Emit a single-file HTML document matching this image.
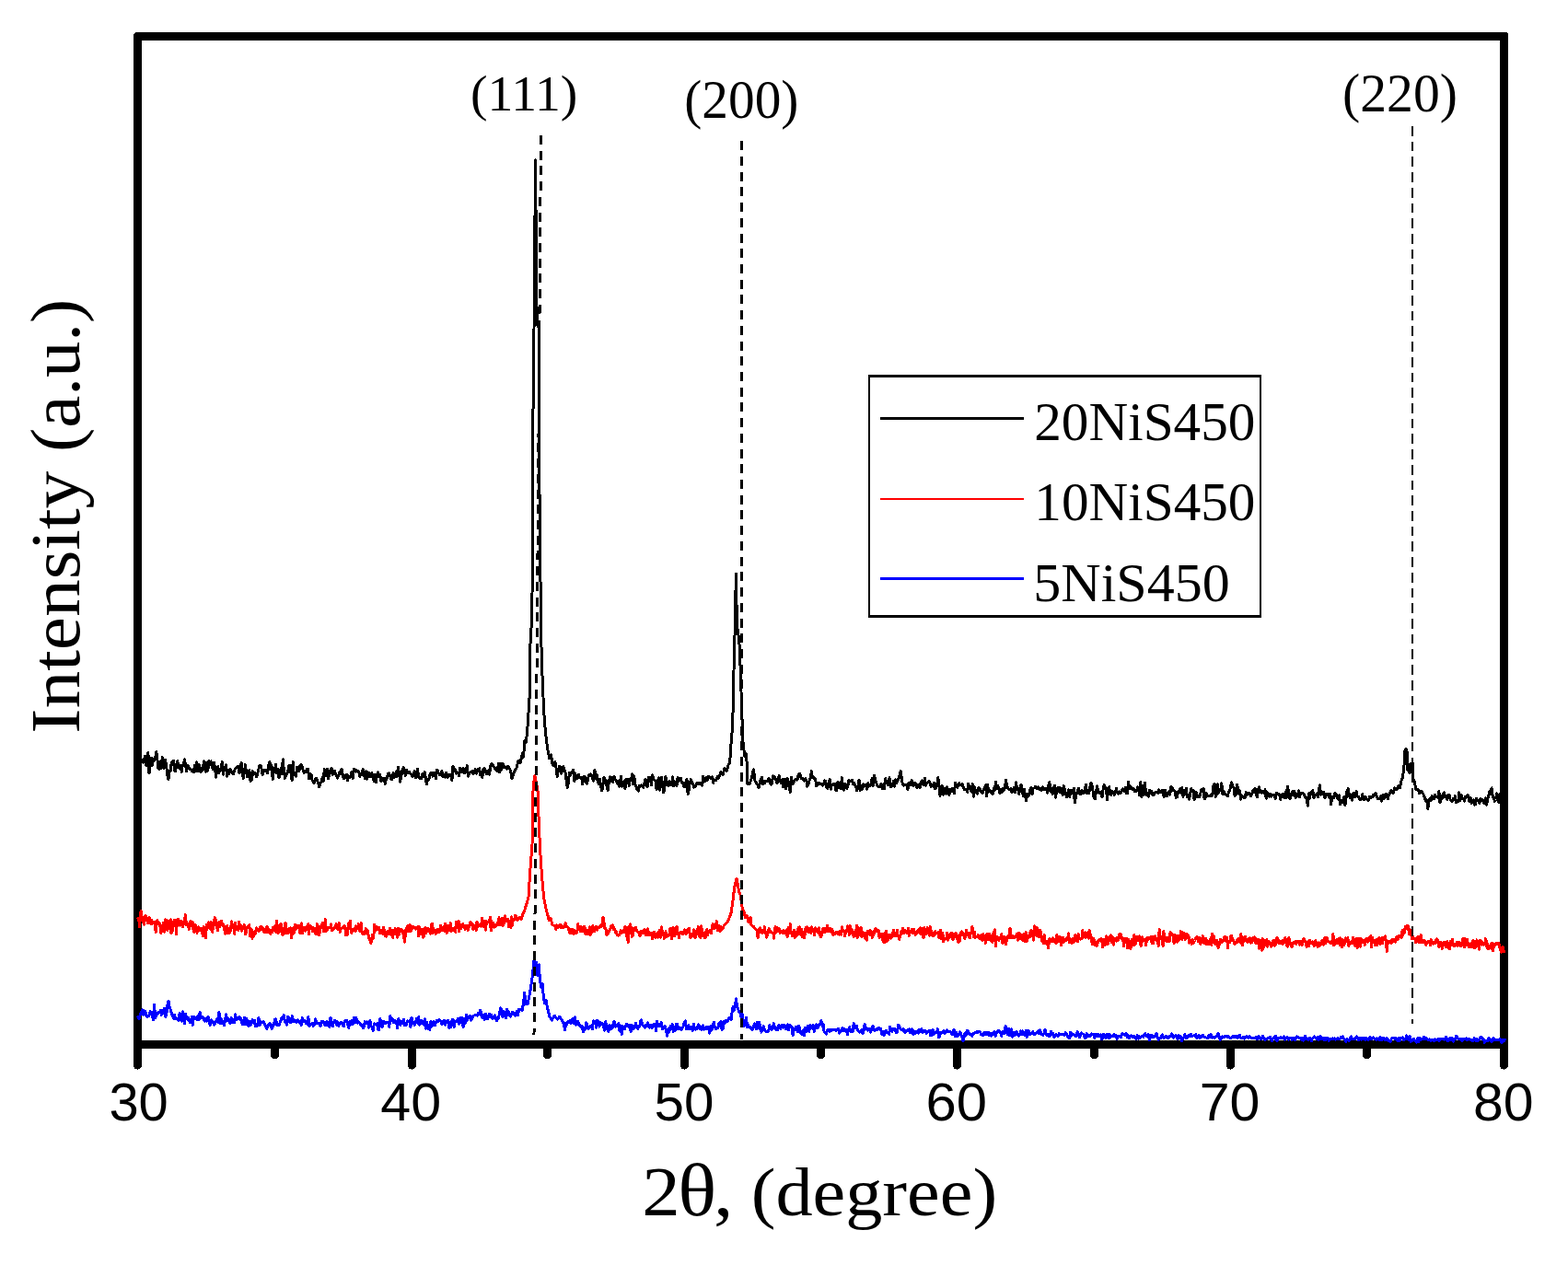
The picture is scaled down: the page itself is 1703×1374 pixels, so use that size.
<!DOCTYPE html>
<html lang="en">
<head>
<meta charset="utf-8">
<title>XRD patterns</title>
<style>
html,body{margin:0;padding:0;background:#fff;}
body{width:1703px;height:1374px;overflow:hidden;}
svg{display:block;}
text{fill:#000;}
</style>
</head>
<body>
<svg width="1703" height="1374" viewBox="0 0 1703 1374">
<rect width="1703" height="1374" fill="#fff"/>
<g shape-rendering="crispEdges" fill="#000">
<polygon points="147,35 1636,35 1638,37 1638,44 145,44 145,37"/>
<rect x="145" y="1130" width="1493" height="9"/>
<rect x="145" y="37" width="9" height="1102"/>
<rect x="1629" y="37" width="9" height="1102"/>
</g>
<g shape-rendering="crispEdges" stroke="#000" stroke-width="9" stroke-linecap="round" fill="none">
<line x1="149.5" y1="1134.5" x2="149.5" y2="1157.2"/>
<line x1="447.5" y1="1134.5" x2="447.5" y2="1157.2"/>
<line x1="743.5" y1="1134.5" x2="743.5" y2="1157.2"/>
<line x1="1039.5" y1="1134.5" x2="1039.5" y2="1157.2"/>
<line x1="1336.5" y1="1134.5" x2="1336.5" y2="1157.2"/>
<line x1="1633.5" y1="1134.5" x2="1633.5" y2="1157.2"/>
<line x1="298.5" y1="1134.5" x2="298.5" y2="1145.6"/>
<line x1="594.5" y1="1134.5" x2="594.5" y2="1145.6"/>
<line x1="891.5" y1="1134.5" x2="891.5" y2="1145.6"/>
<line x1="1188.5" y1="1134.5" x2="1188.5" y2="1145.6"/>
<line x1="1484.5" y1="1134.5" x2="1484.5" y2="1145.6"/>
</g>
<g shape-rendering="crispEdges" fill="none" stroke-width="3" stroke-linejoin="round" stroke-linecap="round">
<path stroke="#000" d="M151.0,821.6 L152.1,835.5 L153.2,824.3 L154.3,827.4 L155.4,828.2 L156.5,824.5 L157.6,821.1 L158.7,831.4 L159.8,829.7 L160.9,817.4 L162.0,839.6 L163.1,832.2 L164.2,823.0 L165.3,831.5 L166.4,824.2 L167.5,826.1 L168.6,824.2 L169.7,816.5 L170.8,823.9 L171.9,834.9 L173.0,835.3 L174.1,827.6 L175.2,834.7 L176.3,822.4 L177.4,830.7 L178.5,834.4 L179.6,825.5 L180.7,832.4 L181.8,841.9 L182.9,846.7 L184.0,837.2 L185.1,837.6 L186.2,828.4 L187.3,827.3 L188.4,826.3 L189.5,836.5 L190.6,837.5 L191.7,830.0 L192.8,826.7 L193.9,834.1 L195.0,834.0 L196.1,831.3 L197.2,838.2 L198.3,830.8 L199.4,830.5 L200.5,824.9 L201.6,831.4 L202.7,838.0 L203.8,831.8 L204.9,832.6 L206.0,835.3 L207.1,835.3 L208.2,837.2 L209.3,837.8 L210.4,838.6 L211.5,831.5 L212.6,837.5 L213.7,827.8 L214.8,837.8 L215.9,830.0 L217.0,836.2 L218.1,839.0 L219.2,834.1 L220.3,836.4 L221.4,827.0 L222.5,830.6 L223.6,838.2 L224.7,828.2 L225.8,837.2 L226.9,826.1 L228.0,828.2 L229.1,827.0 L230.2,832.9 L231.3,836.0 L232.4,828.3 L233.5,833.8 L234.6,844.2 L235.7,834.9 L236.8,832.8 L237.9,839.4 L239.0,836.3 L240.1,833.7 L241.2,827.8 L242.3,841.2 L243.4,833.8 L244.5,836.6 L245.6,830.9 L246.7,843.1 L247.8,840.0 L248.9,841.0 L250.0,835.2 L251.1,838.0 L252.2,840.1 L253.3,840.7 L254.4,837.0 L255.5,835.3 L256.6,834.2 L257.7,832.7 L258.8,832.2 L259.9,839.7 L261.0,837.2 L262.1,828.8 L263.2,839.0 L264.3,845.7 L265.4,838.9 L266.5,830.7 L267.6,839.5 L268.7,843.9 L269.8,840.4 L270.9,836.8 L272.0,848.2 L273.1,848.1 L274.2,837.3 L275.3,841.6 L276.4,839.1 L277.5,840.7 L278.6,843.8 L279.7,840.1 L280.8,836.0 L281.9,832.0 L283.0,831.1 L284.1,835.3 L285.2,841.7 L286.3,837.5 L287.4,836.5 L288.5,837.8 L289.6,836.8 L290.7,839.7 L291.8,831.3 L292.9,827.1 L294.0,835.4 L295.1,831.9 L296.2,846.5 L297.3,837.4 L298.4,837.1 L299.5,830.5 L300.6,840.0 L301.7,835.4 L302.8,844.5 L303.9,843.1 L305.0,834.8 L306.1,841.0 L307.2,824.8 L308.3,835.4 L309.4,845.4 L310.5,843.0 L311.6,839.7 L312.7,838.6 L313.8,831.3 L314.9,831.6 L316.0,839.8 L317.1,847.7 L318.2,827.2 L319.3,841.7 L320.4,841.5 L321.5,843.1 L322.6,833.5 L323.7,835.0 L324.8,837.8 L325.9,831.9 L327.0,830.6 L328.1,832.3 L329.2,836.6 L330.3,839.2 L331.4,837.5 L332.5,838.6 L333.6,835.3 L334.7,835.7 L335.8,845.9 L336.9,840.4 L338.0,841.0 L339.1,847.1 L340.2,849.4 L341.3,850.5 L342.4,846.8 L343.5,845.3 L344.6,847.9 L345.7,851.0 L346.8,855.0 L347.9,851.1 L349.0,849.0 L350.1,844.5 L351.2,848.2 L352.3,835.5 L353.4,842.7 L354.5,842.8 L355.6,835.4 L356.7,845.9 L357.8,837.6 L358.9,837.4 L360.0,834.4 L361.1,841.3 L362.2,839.5 L363.3,837.3 L364.4,840.6 L365.5,842.7 L366.6,845.0 L367.7,842.1 L368.8,838.7 L369.9,840.6 L371.0,835.2 L372.1,840.8 L373.2,845.9 L374.3,844.9 L375.4,842.7 L376.5,841.5 L377.6,847.6 L378.7,842.8 L379.8,844.5 L380.9,842.3 L382.0,838.3 L383.1,845.4 L384.2,835.5 L385.3,835.4 L386.4,838.0 L387.5,837.0 L388.6,837.8 L389.7,837.9 L390.8,843.6 L391.9,840.7 L393.0,842.0 L394.1,835.7 L395.2,838.5 L396.3,845.3 L397.4,837.8 L398.5,846.2 L399.6,839.0 L400.7,843.7 L401.8,840.0 L402.9,843.6 L404.0,839.9 L405.1,842.1 L406.2,848.7 L407.3,841.7 L408.4,849.9 L409.5,841.4 L410.6,839.0 L411.7,843.3 L412.8,841.6 L413.9,849.0 L415.0,845.9 L416.1,847.0 L417.2,845.1 L418.3,851.4 L419.4,845.7 L420.5,844.8 L421.6,840.2 L422.7,839.9 L423.8,843.6 L424.9,846.3 L426.0,846.5 L427.1,839.3 L428.2,844.1 L429.3,842.7 L430.4,838.0 L431.5,843.3 L432.6,833.6 L433.7,842.0 L434.8,849.2 L435.9,837.1 L437.0,840.4 L438.1,833.7 L439.2,837.4 L440.3,842.4 L441.4,836.2 L442.5,839.6 L443.6,838.5 L444.7,838.4 L445.8,840.3 L446.9,841.3 L448.0,843.9 L449.1,842.5 L450.2,837.8 L451.3,844.6 L452.4,844.3 L453.5,835.2 L454.6,843.3 L455.7,844.6 L456.8,846.0 L457.9,845.4 L459.0,840.0 L460.1,844.0 L461.2,838.2 L462.3,844.8 L463.4,852.0 L464.5,847.0 L465.6,847.2 L466.7,842.2 L467.8,840.0 L468.9,839.5 L470.0,843.1 L471.1,839.6 L472.2,839.9 L473.3,845.9 L474.4,836.4 L475.5,837.5 L476.6,840.4 L477.7,841.9 L478.8,841.9 L479.9,837.8 L481.0,843.3 L482.1,842.3 L483.2,844.1 L484.3,839.3 L485.4,844.0 L486.5,844.0 L487.6,841.1 L488.7,842.6 L489.8,841.3 L490.9,847.6 L492.0,832.1 L493.1,837.3 L494.2,836.0 L495.3,840.1 L496.4,838.7 L497.5,839.2 L498.6,842.6 L499.7,834.2 L500.8,836.5 L501.9,838.2 L503.0,834.5 L504.1,839.5 L505.2,839.1 L506.3,835.5 L507.4,831.8 L508.5,843.2 L509.6,839.4 L510.7,839.2 L511.8,838.0 L512.9,837.8 L514.0,840.6 L515.1,837.7 L516.2,835.7 L517.3,840.2 L518.4,838.0 L519.5,835.2 L520.6,834.7 L521.7,841.8 L522.8,839.9 L523.9,844.3 L525.0,835.5 L526.1,834.4 L527.2,837.9 L528.3,840.8 L529.4,837.7 L530.5,836.7 L531.6,841.2 L532.7,831.8 L533.8,829.6 L534.9,830.9 L536.0,832.0 L537.1,834.1 L538.2,836.1 L539.3,833.9 L540.4,837.6 L541.5,829.6 L542.6,838.8 L543.7,829.5 L544.8,836.2 L545.9,829.0 L547.0,833.3 L548.1,832.3 L549.2,834.0 L550.3,835.1 L551.4,832.3 L552.5,833.4 L553.6,835.2 L554.7,837.5 L556.0,846.0 L559.0,837.2 L561.0,834.0 L563.0,826.0 L565.0,829.0 L567.4,818.0 L568.5,822.0 L570.0,804.0 L571.5,806.0 L573.0,789.0 L574.2,771.0 L575.3,754.0 L575.5,705.0 L576.8,690.0 L577.3,670.0 L578.0,645.0 L578.6,605.0 L578.4,500.0 L578.9,455.0 L579.4,410.0 L580.0,358.0 L581.5,174.0 L583.2,352.0 L585.3,356.0 L585.2,400.0 L585.5,450.0 L585.6,520.0 L586.6,560.0 L586.8,620.0 L587.5,660.0 L587.6,690.0 L588.9,731.0 L590.6,771.5 L592.4,795.0 L594.5,812.0 L596.8,824.0 L598.5,820.0 L600.0,830.0 L602.0,832.0 L603.0,827.6 L604.1,834.2 L605.2,843.2 L606.3,837.9 L607.4,832.1 L608.5,833.2 L609.6,840.3 L610.7,835.5 L611.8,832.5 L612.9,836.6 L614.0,838.6 L615.1,847.3 L616.2,855.5 L617.3,850.3 L618.4,839.4 L619.5,842.0 L620.6,838.7 L621.7,837.7 L622.8,836.1 L623.9,848.6 L625.0,840.7 L626.1,844.3 L627.2,845.7 L628.3,841.1 L629.4,844.9 L630.5,845.1 L631.6,844.1 L632.7,851.9 L633.8,844.8 L634.9,843.0 L636.0,846.5 L637.1,851.1 L638.2,848.1 L639.3,842.5 L640.4,841.1 L641.5,840.9 L642.6,842.0 L643.7,846.2 L644.8,848.0 L645.9,836.0 L647.0,845.2 L648.1,841.6 L649.2,849.4 L650.3,851.5 L651.4,846.2 L652.5,853.1 L653.6,858.8 L654.7,855.3 L655.8,844.6 L656.9,846.1 L658.0,847.5 L659.1,854.6 L660.2,858.8 L661.3,849.1 L662.4,843.9 L663.5,848.6 L664.6,844.6 L665.7,849.5 L666.8,843.2 L667.9,846.1 L669.0,847.7 L670.1,850.2 L671.2,848.4 L672.3,854.1 L673.4,850.2 L674.5,843.1 L675.6,854.3 L676.7,849.8 L677.8,848.4 L678.9,856.6 L680.0,846.4 L681.1,849.9 L682.2,846.1 L683.3,853.4 L684.4,846.0 L685.5,847.7 L686.6,840.9 L687.7,852.0 L688.8,842.9 L689.9,851.8 L691.0,854.3 L692.1,857.5 L693.2,859.0 L694.3,853.1 L695.4,854.4 L696.5,852.8 L697.6,853.3 L698.7,855.4 L699.8,850.9 L700.9,846.7 L702.0,849.0 L703.1,854.9 L704.2,844.0 L705.3,848.7 L706.4,844.4 L707.5,852.5 L708.6,841.7 L709.7,846.7 L710.8,847.5 L711.9,848.4 L713.0,857.3 L714.1,854.5 L715.2,844.9 L716.3,858.1 L717.4,845.9 L718.5,844.1 L719.6,852.6 L720.7,860.7 L721.8,857.2 L722.9,843.3 L724.0,853.1 L725.1,849.9 L726.2,853.2 L727.3,848.4 L728.4,852.9 L729.5,851.1 L730.6,844.0 L731.7,853.9 L732.8,848.9 L733.9,851.0 L735.0,853.2 L736.1,844.6 L737.2,848.2 L738.3,845.5 L739.4,845.2 L740.5,850.1 L741.6,850.5 L742.7,854.6 L743.8,854.9 L744.9,849.6 L746.0,846.5 L747.1,862.4 L748.2,858.4 L749.3,849.8 L750.4,846.7 L751.5,848.8 L752.6,851.6 L753.7,855.1 L754.8,854.6 L755.9,852.6 L757.0,850.1 L758.1,851.8 L759.2,850.1 L760.3,851.7 L761.4,851.0 L762.5,853.3 L763.6,843.6 L764.7,849.0 L765.8,848.5 L766.9,844.4 L768.0,847.4 L769.1,843.2 L770.2,844.1 L771.3,845.2 L772.4,845.1 L773.5,843.8 L774.6,850.4 L775.7,847.0 L776.8,847.5 L777.9,847.3 L779.0,843.8 L780.7,845.0 L783.0,838.0 L785.0,842.0 L787.0,834.0 L789.0,838.0 L791.0,831.0 L792.7,828.6 L793.7,811.0 L795.5,791.0 L796.5,757.0 L797.5,700.0 L798.3,685.0 L799.3,623.0 L800.5,680.0 L802.0,690.0 L803.5,705.0 L804.5,740.0 L805.4,760.0 L806.0,780.7 L807.0,806.0 L808.8,821.5 L810.0,818.0 L811.0,826.6 L812.0,852.0 L814.0,851.7 L816.0,846.0 L818.4,836.0 L820.0,848.0 L823.0,853.0 L824.1,855.4 L825.2,851.1 L826.3,846.1 L827.4,844.4 L828.5,852.0 L829.6,848.5 L830.7,850.4 L831.8,848.4 L832.9,848.6 L834.0,849.0 L835.1,845.2 L836.2,849.0 L837.3,852.1 L838.4,851.0 L839.5,842.8 L840.6,844.0 L841.7,843.9 L842.8,847.4 L843.9,850.9 L845.0,849.1 L846.1,842.2 L847.2,848.2 L848.3,850.8 L849.4,846.9 L850.5,854.8 L851.6,846.6 L852.7,852.8 L853.8,856.9 L854.9,845.1 L856.0,848.4 L857.1,851.5 L858.2,860.4 L859.3,844.1 L860.4,851.9 L861.5,850.9 L862.6,848.3 L863.7,846.5 L864.8,847.0 L865.9,847.1 L867.0,841.9 L868.1,840.0 L869.2,842.0 L870.3,845.9 L871.4,845.3 L872.5,846.3 L873.6,848.2 L874.7,845.5 L875.8,847.4 L876.9,854.1 L878.0,852.0 L879.1,847.8 L880.2,845.4 L881.3,837.5 L882.4,844.3 L883.5,844.6 L884.6,845.7 L885.7,846.8 L886.8,853.9 L887.9,850.7 L889.0,851.9 L890.1,850.8 L891.2,851.6 L892.3,852.0 L893.4,853.3 L894.5,851.4 L895.6,848.0 L896.7,848.6 L897.8,855.3 L898.9,856.1 L900.0,853.5 L901.1,846.4 L902.2,857.1 L903.3,853.1 L904.4,852.0 L905.5,852.4 L906.6,851.2 L907.7,858.4 L908.8,858.3 L909.9,849.3 L911.0,852.2 L912.1,853.9 L913.2,857.0 L914.3,844.7 L915.4,855.7 L916.5,858.0 L917.6,851.3 L918.7,852.2 L919.8,856.3 L920.9,853.3 L922.0,847.6 L923.1,848.0 L924.2,848.4 L925.3,847.2 L926.4,851.9 L927.5,850.4 L928.6,852.5 L929.7,855.0 L930.8,858.9 L931.9,854.1 L933.0,847.4 L934.1,858.3 L935.2,853.3 L936.3,857.5 L937.4,852.0 L938.5,854.4 L939.6,852.8 L940.7,853.0 L941.8,857.2 L942.9,850.6 L944.0,853.2 L945.1,853.3 L946.2,851.1 L947.3,845.0 L948.4,853.3 L949.5,842.6 L950.6,846.9 L951.7,850.3 L952.8,853.3 L953.9,854.8 L955.0,854.8 L956.1,854.2 L957.2,851.2 L958.3,856.6 L959.4,851.8 L960.5,856.6 L961.6,845.7 L962.7,850.1 L963.8,851.3 L964.9,853.0 L966.0,844.8 L967.1,854.8 L968.2,854.7 L969.3,853.3 L970.4,848.3 L971.5,854.1 L972.6,846.7 L973.7,850.8 L974.8,846.9 L975.9,846.3 L977.0,841.9 L978.1,837.5 L979.2,844.5 L980.3,852.1 L981.4,853.2 L982.5,852.6 L983.6,852.8 L984.7,852.8 L985.8,857.7 L986.9,850.8 L988.0,850.5 L989.1,853.0 L990.2,847.6 L991.3,852.6 L992.4,853.4 L993.5,850.2 L994.6,851.6 L995.7,855.6 L996.8,852.2 L997.9,852.9 L999.0,855.7 L1000.1,850.0 L1001.2,847.9 L1002.3,851.3 L1003.4,852.6 L1004.5,845.1 L1005.6,853.2 L1006.7,850.1 L1007.8,849.8 L1008.9,848.4 L1010.0,850.7 L1011.1,854.5 L1012.2,853.2 L1013.3,854.1 L1014.4,850.3 L1015.5,857.0 L1016.6,856.3 L1017.7,852.6 L1018.8,844.7 L1019.9,854.5 L1021.0,864.2 L1022.1,855.8 L1023.2,853.4 L1024.3,863.1 L1025.4,856.2 L1026.5,860.5 L1027.6,862.0 L1028.7,854.8 L1029.8,860.0 L1030.9,863.7 L1032.0,857.1 L1033.1,859.8 L1034.2,856.1 L1035.3,859.3 L1036.4,861.7 L1037.5,850.1 L1038.6,852.9 L1039.7,855.5 L1040.8,851.6 L1041.9,850.8 L1043.0,852.7 L1044.1,853.0 L1045.2,851.6 L1046.3,855.4 L1047.4,857.5 L1048.5,857.6 L1049.6,857.8 L1050.7,860.3 L1051.8,851.0 L1052.9,856.3 L1054.0,857.9 L1055.1,859.5 L1056.2,851.6 L1057.3,865.1 L1058.4,854.6 L1059.5,859.0 L1060.6,860.8 L1061.7,862.1 L1062.8,855.4 L1063.9,855.9 L1065.0,859.4 L1066.1,860.2 L1067.2,861.5 L1068.3,857.7 L1069.4,855.3 L1070.5,852.8 L1071.6,864.4 L1072.7,852.4 L1073.8,860.2 L1074.9,858.5 L1076.0,860.2 L1077.1,860.9 L1078.2,862.3 L1079.3,856.8 L1080.4,858.5 L1081.5,849.5 L1082.6,857.0 L1083.7,853.4 L1084.8,856.2 L1085.9,861.5 L1087.0,857.2 L1088.1,861.0 L1089.2,856.1 L1090.3,858.3 L1091.4,855.2 L1092.5,847.1 L1093.6,854.1 L1094.7,855.8 L1095.8,857.5 L1096.9,857.0 L1098.0,856.5 L1099.1,860.7 L1100.2,859.5 L1101.3,855.7 L1102.4,860.6 L1103.5,849.8 L1104.6,856.3 L1105.7,856.9 L1106.8,862.5 L1107.9,855.6 L1109.0,852.1 L1110.1,858.4 L1111.2,864.2 L1112.3,857.1 L1113.4,863.0 L1114.5,869.8 L1115.6,863.1 L1116.7,862.1 L1117.8,864.1 L1118.9,858.0 L1120.0,855.5 L1121.1,862.8 L1122.2,856.1 L1123.3,856.0 L1124.4,854.5 L1125.5,854.7 L1126.6,856.9 L1127.7,855.0 L1128.8,857.7 L1129.9,856.6 L1131.0,858.4 L1132.1,854.9 L1133.2,855.7 L1134.3,857.4 L1135.4,856.8 L1136.5,857.0 L1137.6,861.2 L1138.7,852.7 L1139.8,849.5 L1140.9,859.8 L1142.0,856.2 L1143.1,862.4 L1144.2,857.1 L1145.3,853.1 L1146.4,866.1 L1147.5,859.4 L1148.6,856.3 L1149.7,855.3 L1150.8,860.5 L1151.9,855.9 L1153.0,860.1 L1154.1,863.2 L1155.2,853.7 L1156.3,857.7 L1157.4,861.1 L1158.5,865.7 L1159.6,863.0 L1160.7,857.9 L1161.8,865.3 L1162.9,858.5 L1164.0,859.3 L1165.1,861.5 L1166.2,856.0 L1167.3,872.0 L1168.4,864.9 L1169.5,861.3 L1170.6,858.4 L1171.7,856.1 L1172.8,861.9 L1173.9,863.0 L1175.0,858.6 L1176.1,859.1 L1177.2,861.8 L1178.3,859.2 L1179.4,852.1 L1180.5,861.5 L1181.6,859.7 L1182.7,861.3 L1183.8,855.5 L1184.9,850.2 L1186.0,853.6 L1187.1,859.6 L1188.2,866.6 L1189.3,867.9 L1190.4,860.3 L1191.5,853.8 L1192.6,858.3 L1193.7,861.5 L1194.8,861.7 L1195.9,860.6 L1197.0,865.5 L1198.1,857.1 L1199.2,852.3 L1200.3,857.2 L1201.4,856.0 L1202.5,868.8 L1203.6,859.5 L1204.7,854.6 L1205.8,862.3 L1206.9,863.7 L1208.0,859.9 L1209.1,860.3 L1210.2,863.4 L1211.3,861.3 L1212.4,856.5 L1213.5,861.1 L1214.6,862.2 L1215.7,859.8 L1216.8,861.6 L1217.9,860.2 L1219.0,856.9 L1220.1,857.0 L1221.2,859.7 L1222.3,855.1 L1223.4,861.4 L1224.5,861.6 L1225.6,849.3 L1226.7,856.8 L1227.8,854.3 L1228.9,854.9 L1230.0,857.9 L1231.1,856.8 L1232.2,859.7 L1233.3,858.9 L1234.4,859.2 L1235.5,855.0 L1236.6,856.8 L1237.7,863.9 L1238.8,849.2 L1239.9,865.5 L1241.0,857.2 L1242.1,864.1 L1243.2,850.1 L1244.3,858.7 L1245.4,863.8 L1246.5,861.5 L1247.6,865.1 L1248.7,858.2 L1249.8,859.6 L1250.9,859.5 L1252.0,863.5 L1253.1,863.3 L1254.2,861.1 L1255.3,860.5 L1256.4,860.2 L1257.5,861.4 L1258.6,857.7 L1259.7,860.7 L1260.8,860.2 L1261.9,858.7 L1263.0,858.5 L1264.1,865.5 L1265.2,858.1 L1266.3,861.5 L1267.4,864.7 L1268.5,862.4 L1269.6,859.8 L1270.7,863.1 L1271.8,854.6 L1272.9,855.2 L1274.0,858.2 L1275.1,858.9 L1276.2,859.4 L1277.3,866.4 L1278.4,865.8 L1279.5,859.9 L1280.6,861.0 L1281.7,857.0 L1282.8,861.4 L1283.9,855.6 L1285.0,865.3 L1286.1,858.7 L1287.2,862.6 L1288.3,856.2 L1289.4,865.8 L1290.5,863.3 L1291.6,868.3 L1292.7,861.9 L1293.8,856.3 L1294.9,859.5 L1296.0,858.2 L1297.1,868.4 L1298.2,860.9 L1299.3,860.8 L1300.4,865.8 L1301.5,864.9 L1302.6,865.9 L1303.7,862.5 L1304.8,857.2 L1305.9,859.3 L1307.0,856.2 L1308.1,868.1 L1309.2,866.5 L1310.3,861.7 L1311.4,865.0 L1312.5,864.9 L1313.6,864.5 L1314.7,863.9 L1315.8,864.9 L1316.9,861.9 L1318.0,853.6 L1319.1,851.5 L1320.2,865.5 L1321.3,862.9 L1322.4,851.9 L1323.5,861.1 L1324.6,857.2 L1325.7,858.2 L1326.8,850.8 L1327.9,862.4 L1329.0,859.2 L1330.1,862.2 L1331.2,863.0 L1332.3,863.5 L1333.4,864.5 L1334.5,859.6 L1335.6,859.1 L1336.7,853.4 L1337.8,850.0 L1338.9,854.4 L1340.0,855.3 L1341.1,864.4 L1342.2,863.4 L1343.3,852.2 L1344.4,855.7 L1345.5,862.2 L1346.6,858.8 L1347.7,868.1 L1348.8,864.4 L1349.9,865.5 L1351.0,866.2 L1352.1,867.0 L1353.2,860.7 L1354.3,863.2 L1355.4,861.3 L1356.5,862.9 L1357.6,861.8 L1358.7,864.7 L1359.8,861.7 L1360.9,858.2 L1362.0,860.5 L1363.1,856.2 L1364.2,861.4 L1365.3,865.8 L1366.4,858.4 L1367.5,854.9 L1368.6,860.6 L1369.7,859.2 L1370.8,861.1 L1371.9,859.1 L1373.0,861.6 L1374.1,857.9 L1375.2,867.1 L1376.3,860.9 L1377.4,863.8 L1378.5,865.0 L1379.6,862.3 L1380.7,865.1 L1381.8,863.4 L1382.9,863.3 L1384.0,864.5 L1385.1,867.2 L1386.2,861.0 L1387.3,862.0 L1388.4,862.0 L1389.5,862.6 L1390.6,868.4 L1391.7,864.0 L1392.8,862.7 L1393.9,864.0 L1395.0,867.0 L1396.1,860.3 L1397.2,866.3 L1398.3,854.2 L1399.4,859.0 L1400.5,867.1 L1401.6,867.1 L1402.7,862.0 L1403.8,859.7 L1404.9,864.0 L1406.0,859.7 L1407.1,866.7 L1408.2,865.6 L1409.3,864.4 L1410.4,858.9 L1411.5,865.6 L1412.6,861.5 L1413.7,861.8 L1414.8,861.3 L1415.9,862.6 L1417.0,864.9 L1418.1,866.3 L1419.2,866.3 L1420.3,875.2 L1421.4,862.0 L1422.5,867.2 L1423.6,860.7 L1424.7,862.2 L1425.8,858.7 L1426.9,867.0 L1428.0,863.6 L1429.1,863.0 L1430.2,862.1 L1431.3,865.7 L1432.4,857.2 L1433.5,853.0 L1434.6,863.3 L1435.7,862.6 L1436.8,861.2 L1437.9,860.2 L1439.0,867.0 L1440.1,864.7 L1441.2,862.2 L1442.3,862.2 L1443.4,865.6 L1444.5,862.3 L1445.6,873.6 L1446.7,865.8 L1447.8,866.2 L1448.9,866.9 L1450.0,861.2 L1451.1,862.8 L1452.2,866.9 L1453.3,868.2 L1454.4,863.9 L1455.5,874.0 L1456.6,869.3 L1457.7,871.8 L1458.8,871.0 L1459.9,865.6 L1461.0,874.5 L1462.1,865.9 L1463.2,858.4 L1464.3,856.4 L1465.4,864.2 L1466.5,866.8 L1467.6,863.5 L1468.7,869.0 L1469.8,861.7 L1470.9,864.8 L1472.0,865.5 L1473.1,859.6 L1474.2,864.6 L1475.3,865.2 L1476.4,868.1 L1477.5,868.8 L1478.6,868.3 L1479.7,862.4 L1480.8,867.8 L1481.9,869.0 L1483.0,865.4 L1484.1,867.9 L1485.2,868.0 L1486.3,869.4 L1487.4,865.5 L1488.5,866.9 L1489.6,866.0 L1490.7,865.5 L1491.8,863.1 L1492.9,864.1 L1494.0,861.3 L1495.1,864.6 L1496.2,867.7 L1497.3,867.4 L1498.4,867.9 L1499.5,864.9 L1500.6,870.1 L1501.7,863.6 L1502.8,867.9 L1503.9,866.7 L1505.0,862.6 L1506.1,862.8 L1507.2,867.9 L1508.0,865.0 L1511.0,858.0 L1513.0,862.0 L1514.6,856.0 L1517.0,858.0 L1519.0,853.0 L1520.5,855.8 L1522.0,848.0 L1523.4,845.0 L1525.0,831.0 L1526.0,815.0 L1527.0,813.5 L1528.0,816.0 L1528.7,835.8 L1530.0,838.0 L1531.0,840.0 L1532.0,829.0 L1533.4,838.0 L1534.0,828.0 L1535.0,846.0 L1536.5,850.0 L1538.0,858.0 L1540.0,857.0 L1541.6,861.6 L1544.0,859.0 L1546.0,862.8 L1548.6,869.9 L1549.7,868.8 L1550.8,878.4 L1551.9,869.3 L1553.0,867.4 L1554.1,869.3 L1555.2,864.4 L1556.3,865.7 L1557.4,867.7 L1558.5,863.2 L1559.6,865.8 L1560.7,865.2 L1561.8,866.1 L1562.9,859.5 L1564.0,871.8 L1565.1,865.2 L1566.2,867.4 L1567.3,861.8 L1568.4,861.0 L1569.5,865.8 L1570.6,864.8 L1571.7,868.5 L1572.8,863.2 L1573.9,863.2 L1575.0,868.1 L1576.1,869.6 L1577.2,870.6 L1578.3,867.4 L1579.4,868.4 L1580.5,864.6 L1581.6,871.8 L1582.7,871.0 L1583.8,870.6 L1584.9,860.9 L1586.0,869.4 L1587.1,863.5 L1588.2,867.6 L1589.3,867.2 L1590.4,870.1 L1591.5,865.4 L1592.6,865.4 L1593.7,863.8 L1594.8,864.0 L1595.9,870.9 L1597.0,866.5 L1598.1,872.6 L1599.2,869.4 L1600.3,868.9 L1601.4,874.2 L1602.5,873.7 L1603.6,867.1 L1604.7,869.8 L1605.8,870.2 L1606.9,872.4 L1608.0,867.3 L1609.1,868.2 L1610.2,869.1 L1611.3,871.8 L1612.4,872.3 L1613.5,866.9 L1614.6,874.3 L1615.7,868.8 L1616.8,863.6 L1617.9,859.8 L1619.0,862.8 L1620.1,855.9 L1621.2,865.0 L1622.3,866.9 L1623.4,870.3 L1624.5,868.5 L1625.6,861.8 L1626.7,867.6 L1627.8,871.7 L1628.9,862.2 L1630.0,867.2 L1631.1,872.4 L1632.2,870.4 L1633.3,863.2"/>
<path stroke="#f00" d="M150.0,997.3 L150.8,999.2 L151.6,1006.5 L152.4,993.9 L153.2,989.7 L154.0,995.3 L154.8,1000.2 L155.6,1001.0 L156.4,1004.2 L157.2,998.7 L158.0,994.1 L158.8,999.1 L159.6,999.0 L160.4,1002.5 L161.2,1002.0 L162.0,996.4 L162.8,1002.0 L163.6,1003.1 L164.4,999.2 L165.2,1003.7 L166.0,1001.3 L166.8,1001.8 L167.6,1001.1 L168.4,1005.0 L169.2,1012.9 L170.0,1003.9 L170.8,999.3 L171.6,1003.0 L172.4,1002.0 L173.2,1005.4 L174.0,1003.9 L174.8,1013.6 L175.6,1007.2 L176.4,1011.3 L177.2,1002.1 L178.0,1003.9 L178.8,1012.2 L179.6,998.8 L180.4,1005.4 L181.2,999.4 L182.0,1010.6 L182.8,1000.0 L183.6,1004.0 L184.4,1004.4 L185.2,998.9 L186.0,1013.7 L186.8,1004.1 L187.6,1010.5 L188.4,1001.9 L189.2,999.0 L190.0,1004.9 L190.8,1004.7 L191.6,1014.4 L192.4,999.9 L193.2,998.0 L194.0,1000.9 L194.8,1004.4 L195.6,1005.2 L196.4,1000.4 L197.2,1001.7 L198.0,1004.9 L198.8,1006.9 L199.6,1000.9 L200.4,1003.6 L201.2,993.3 L202.0,999.9 L202.8,1005.0 L203.6,1003.6 L204.4,1003.1 L205.2,1009.7 L206.0,1003.0 L206.8,1000.4 L207.6,1005.4 L208.4,1005.8 L209.2,1001.5 L210.0,1009.7 L210.8,1012.8 L211.6,1005.1 L212.4,1004.6 L213.2,1008.0 L214.0,1013.3 L214.8,1007.2 L215.6,1006.9 L216.4,1007.6 L217.2,1010.6 L218.0,1010.3 L218.8,1008.7 L219.6,1013.4 L220.4,1017.0 L221.2,1006.5 L222.0,1012.1 L222.8,1009.1 L223.6,1018.7 L224.4,1004.5 L225.2,1006.2 L226.0,1007.6 L226.8,1001.9 L227.6,1006.0 L228.4,1009.2 L229.2,1001.2 L230.0,1006.7 L230.8,1012.5 L231.6,1003.8 L232.4,1002.5 L233.2,996.5 L234.0,1005.1 L234.8,999.5 L235.6,1007.2 L236.4,1010.9 L237.2,1006.9 L238.0,1001.8 L238.8,1006.9 L239.6,1002.7 L240.4,1000.4 L241.2,1002.9 L242.0,1005.8 L242.8,1004.1 L243.6,1007.9 L244.4,1014.2 L245.2,1009.2 L246.0,1010.2 L246.8,1005.6 L247.6,1013.4 L248.4,1010.4 L249.2,1013.1 L250.0,1006.8 L250.8,1010.5 L251.6,1001.0 L252.4,1007.9 L253.2,1005.8 L254.0,1004.9 L254.8,1014.5 L255.6,1002.4 L256.4,1007.1 L257.2,1006.8 L258.0,1009.0 L258.8,1010.6 L259.6,1001.2 L260.4,1005.1 L261.2,1004.7 L262.0,1010.0 L262.8,1011.2 L263.6,1006.5 L264.4,1006.3 L265.2,1004.9 L266.0,1010.1 L266.8,1015.0 L267.6,1010.6 L268.4,1007.0 L269.2,1006.8 L270.0,1007.4 L270.8,1004.3 L271.6,1016.7 L272.4,1011.0 L273.2,1009.8 L274.0,1019.3 L274.8,1012.1 L275.6,1016.6 L276.4,1011.9 L277.2,1014.4 L278.0,1010.1 L278.8,1007.8 L279.6,1010.0 L280.4,1010.4 L281.2,1011.4 L282.0,1008.0 L282.8,1006.5 L283.6,1006.5 L284.4,1009.5 L285.2,1007.3 L286.0,1008.5 L286.8,1012.3 L287.6,1013.0 L288.4,1013.0 L289.2,1008.8 L290.0,1006.4 L290.8,1012.5 L291.6,1011.9 L292.4,1010.0 L293.2,1012.1 L294.0,1014.3 L294.8,1010.5 L295.6,1012.6 L296.4,1007.5 L297.2,1010.2 L298.0,1007.9 L298.8,1005.6 L299.6,1012.3 L300.4,1000.5 L301.2,1010.4 L302.0,1013.4 L302.8,1011.9 L303.6,1004.8 L304.4,1011.2 L305.2,1003.7 L306.0,1007.0 L306.8,1015.3 L307.6,1010.6 L308.4,1014.2 L309.2,1005.9 L310.0,1002.2 L310.8,1006.8 L311.6,1014.0 L312.4,1012.6 L313.2,1013.0 L314.0,1008.5 L314.8,1008.5 L315.6,1008.0 L316.4,1019.0 L317.2,1008.8 L318.0,1014.7 L318.8,1007.6 L319.6,1013.0 L320.4,1004.1 L321.2,1006.1 L322.0,1009.1 L322.8,1005.8 L323.6,1006.4 L324.4,1007.3 L325.2,1005.9 L326.0,1013.4 L326.8,1011.9 L327.6,1002.8 L328.4,1014.0 L329.2,1007.7 L330.0,1007.8 L330.8,1007.3 L331.6,1011.0 L332.4,1010.4 L333.2,1006.0 L334.0,1008.2 L334.8,1003.4 L335.6,1015.0 L336.4,1005.4 L337.2,1005.4 L338.0,1006.2 L338.8,1009.5 L339.6,1011.8 L340.4,1008.0 L341.2,1009.6 L342.0,1008.4 L342.8,1014.4 L343.6,1010.6 L344.4,1003.6 L345.2,1014.9 L346.0,1010.5 L346.8,1016.0 L347.6,1006.5 L348.4,1006.6 L349.2,1007.5 L350.0,1002.7 L350.8,1006.1 L351.6,1011.7 L352.4,1009.5 L353.2,998.2 L354.0,1011.5 L354.8,1008.2 L355.6,1009.9 L356.4,1007.2 L357.2,1007.9 L358.0,1007.5 L358.8,1007.6 L359.6,1003.8 L360.4,1011.0 L361.2,1008.4 L362.0,1009.1 L362.8,1009.0 L363.6,1007.0 L364.4,1007.9 L365.2,1003.7 L366.0,1009.1 L366.8,1009.2 L367.6,1007.5 L368.4,1002.7 L369.2,1012.9 L370.0,1008.0 L370.8,1008.6 L371.6,1007.7 L372.4,1006.8 L373.2,1007.5 L374.0,1005.3 L374.8,1007.1 L375.6,1015.9 L376.4,1013.0 L377.2,1015.7 L378.0,1007.1 L378.8,1002.9 L379.6,1004.6 L380.4,1000.4 L381.2,1012.7 L382.0,1013.2 L382.8,1009.5 L383.6,1010.4 L384.4,1010.3 L385.2,1008.7 L386.0,1011.5 L386.8,1005.8 L387.6,1007.7 L388.4,1008.8 L389.2,1003.8 L390.0,1006.4 L390.8,1011.5 L391.6,1011.5 L392.4,1002.6 L393.2,1014.2 L394.0,1012.7 L394.8,1014.4 L395.6,1012.0 L396.4,1014.5 L397.2,1008.7 L398.0,1012.6 L398.8,1010.2 L399.6,1012.4 L400.4,1018.3 L401.2,1020.2 L402.0,1019.4 L402.8,1024.6 L403.6,1020.6 L404.4,1015.7 L405.2,1019.8 L406.0,1014.7 L406.8,1004.1 L407.6,1011.2 L408.4,1009.2 L409.2,1006.8 L410.0,1009.4 L410.8,1008.8 L411.6,1007.4 L412.4,1013.7 L413.2,1010.4 L414.0,1010.9 L414.8,1010.5 L415.6,1014.4 L416.4,1007.1 L417.2,1015.2 L418.0,1010.8 L418.8,1016.9 L419.6,1017.1 L420.4,1014.3 L421.2,1011.4 L422.0,1013.9 L422.8,1014.2 L423.6,1008.1 L424.4,1011.8 L425.2,1010.5 L426.0,1017.3 L426.8,1018.3 L427.6,1010.3 L428.4,1010.9 L429.2,1008.2 L430.0,1013.4 L430.8,1015.1 L431.6,1018.3 L432.4,1008.1 L433.2,1015.3 L434.0,1011.7 L434.8,1009.8 L435.6,1011.0 L436.4,1009.5 L437.2,1013.5 L438.0,1011.9 L438.8,1019.0 L439.6,1023.0 L440.4,1013.3 L441.2,1007.9 L442.0,1012.0 L442.8,1005.6 L443.6,1007.6 L444.4,1011.4 L445.2,1004.7 L446.0,1011.6 L446.8,1009.7 L447.6,1006.4 L448.4,1008.1 L449.2,1006.7 L450.0,1007.2 L450.8,1007.7 L451.6,1009.1 L452.4,1009.0 L453.2,1007.2 L454.0,1006.6 L454.8,1016.9 L455.6,1006.8 L456.4,1010.2 L457.2,1014.9 L458.0,1014.4 L458.8,1009.0 L459.6,1018.1 L460.4,1017.4 L461.2,1010.6 L462.0,1007.5 L462.8,1013.6 L463.6,1010.8 L464.4,1010.4 L465.2,1008.6 L466.0,1009.3 L466.8,1011.7 L467.6,1014.0 L468.4,1004.2 L469.2,1003.1 L470.0,1014.0 L470.8,1008.0 L471.6,1013.0 L472.4,1011.0 L473.2,1014.7 L474.0,1013.5 L474.8,1009.5 L475.6,1009.8 L476.4,1011.4 L477.2,1012.7 L478.0,1008.1 L478.8,1005.1 L479.6,1010.3 L480.4,1009.7 L481.2,1009.2 L482.0,1006.3 L482.8,1011.4 L483.6,1003.6 L484.4,1007.6 L485.2,1013.3 L486.0,1005.2 L486.8,1010.1 L487.6,1010.1 L488.4,1009.9 L489.2,1002.8 L490.0,1011.5 L490.8,1008.6 L491.6,1009.6 L492.4,1008.9 L493.2,1008.0 L494.0,1011.7 L494.8,1012.3 L495.6,1001.4 L496.4,1004.9 L497.2,1006.8 L498.0,1000.2 L498.8,1012.0 L499.6,1004.6 L500.4,1008.9 L501.2,1007.7 L502.0,1006.2 L502.8,1003.5 L503.6,1005.6 L504.4,1007.0 L505.2,1009.2 L506.0,1005.8 L506.8,1005.1 L507.6,1005.5 L508.4,1010.5 L509.2,1007.0 L510.0,1003.8 L510.8,1001.7 L511.6,1004.4 L512.4,1002.7 L513.2,1004.2 L514.0,1009.9 L514.8,1007.6 L515.6,1006.0 L516.4,1006.5 L517.2,1010.7 L518.0,1001.2 L518.8,1006.3 L519.6,1004.1 L520.4,1005.1 L521.2,1004.8 L522.0,1003.4 L522.8,1006.1 L523.6,997.1 L524.4,1005.1 L525.2,1006.3 L526.0,1000.8 L526.8,1000.6 L527.6,1010.0 L528.4,1000.7 L529.2,1002.3 L530.0,1001.0 L530.8,1001.4 L531.6,1001.1 L532.4,996.3 L533.2,1011.0 L534.0,1000.7 L534.8,1004.2 L535.6,1002.6 L536.4,1007.2 L537.2,1004.9 L538.0,1006.3 L538.8,1006.2 L539.6,1005.0 L540.4,1002.3 L541.2,1005.0 L542.0,996.7 L542.8,1004.7 L543.6,1003.9 L544.4,1002.5 L545.2,997.0 L546.0,1005.6 L546.8,998.9 L547.6,1003.0 L548.4,994.8 L549.2,1000.2 L550.0,998.5 L550.8,998.0 L551.6,998.3 L552.4,1006.3 L553.2,1000.4 L554.0,1001.5 L554.8,1007.4 L555.6,995.7 L556.4,1005.3 L557.2,999.1 L558.0,998.2 L558.8,998.9 L559.6,994.3 L560.4,995.1 L561.2,996.4 L562.0,1000.0 L564.0,996.0 L566.0,999.0 L567.6,993.3 L569.5,990.0 L571.3,983.7 L573.0,978.0 L574.0,974.0 L575.0,958.0 L576.1,942.0 L577.0,930.0 L578.0,918.0 L578.4,890.0 L578.8,862.0 L579.8,850.0 L580.9,842.8 L582.5,850.0 L584.4,862.0 L585.2,894.0 L586.8,926.0 L588.4,950.0 L590.5,974.0 L592.0,982.0 L593.7,990.0 L596.4,999.7 L598.0,997.0 L600.0,1004.5 L603.0,1005.9 L603.8,1009.5 L604.6,1004.8 L605.4,1007.2 L606.2,1007.4 L607.0,1005.2 L607.8,1006.7 L608.6,1004.1 L609.4,1007.9 L610.2,1005.4 L611.0,1006.4 L611.8,1007.2 L612.6,1007.0 L613.4,1004.3 L614.2,1002.4 L615.0,1007.0 L615.8,1005.9 L616.6,1006.9 L617.4,1009.4 L618.2,1008.8 L619.0,1013.5 L619.8,1013.9 L620.6,1009.9 L621.4,1013.9 L622.2,1009.1 L623.0,1014.2 L623.8,1013.4 L624.6,1010.9 L625.4,1013.4 L626.2,1013.4 L627.0,1011.0 L627.8,1003.2 L628.6,1009.4 L629.4,1009.6 L630.2,1011.6 L631.0,1006.0 L631.8,1011.7 L632.6,1010.8 L633.4,1011.2 L634.2,1006.1 L635.0,1007.5 L635.8,1014.3 L636.6,1013.6 L637.4,1010.8 L638.2,1014.9 L639.0,1012.4 L639.8,1010.4 L640.6,1006.8 L641.4,1015.3 L642.2,1011.5 L643.0,1012.5 L643.8,1005.6 L644.6,1009.4 L645.4,1011.8 L646.2,1009.7 L647.0,1007.7 L647.8,1006.2 L648.6,1010.2 L649.4,1007.9 L650.2,1007.7 L651.0,1007.5 L651.8,1006.0 L652.6,1006.7 L653.4,1005.6 L654.2,1002.4 L655.0,996.0 L655.8,1000.4 L656.6,1008.1 L657.4,1007.9 L658.2,1009.3 L659.0,1015.8 L659.8,1012.1 L660.6,1013.8 L661.4,1011.8 L662.2,1010.5 L663.0,1008.7 L663.8,1005.6 L664.6,1007.5 L665.4,1004.9 L666.2,1009.2 L667.0,1007.9 L667.8,1010.1 L668.6,1013.2 L669.4,1011.9 L670.2,1015.9 L671.0,1015.8 L671.8,1016.1 L672.6,1015.4 L673.4,1013.3 L674.2,1010.6 L675.0,1013.6 L675.8,1011.1 L676.6,1011.1 L677.4,1012.9 L678.2,1007.9 L679.0,1006.0 L679.8,1012.2 L680.6,1016.9 L681.4,1014.7 L682.2,1023.4 L683.0,1006.5 L683.8,1009.1 L684.6,1003.7 L685.4,1008.4 L686.2,1017.5 L687.0,1016.6 L687.8,1008.1 L688.6,1010.4 L689.4,1008.8 L690.2,1007.1 L691.0,1010.8 L691.8,1010.5 L692.6,1012.0 L693.4,1012.6 L694.2,1014.1 L695.0,1016.5 L695.8,1011.9 L696.6,1011.6 L697.4,1012.4 L698.2,1014.0 L699.0,1012.2 L699.8,1009.6 L700.6,1011.2 L701.4,1015.5 L702.2,1009.9 L703.0,1016.0 L703.8,1008.9 L704.6,1015.6 L705.4,1015.7 L706.2,1013.2 L707.0,1014.0 L707.8,1013.4 L708.6,1019.8 L709.4,1013.0 L710.2,1012.2 L711.0,1015.9 L711.8,1018.4 L712.6,1015.9 L713.4,1014.3 L714.2,1018.1 L715.0,1012.2 L715.8,1012.0 L716.6,1010.4 L717.4,1018.2 L718.2,1006.9 L719.0,1009.8 L719.8,1014.7 L720.6,1015.1 L721.4,1019.3 L722.2,1014.9 L723.0,1011.8 L723.8,1017.8 L724.6,1016.7 L725.4,1016.9 L726.2,1016.6 L727.0,1014.7 L727.8,1008.4 L728.6,1009.7 L729.4,1019.6 L730.2,1013.4 L731.0,1007.2 L731.8,1013.5 L732.6,1016.5 L733.4,1014.6 L734.2,1013.4 L735.0,1005.9 L735.8,1013.7 L736.6,1013.1 L737.4,1019.0 L738.2,1013.6 L739.0,1013.5 L739.8,1012.2 L740.6,1013.3 L741.4,1014.7 L742.2,1012.2 L743.0,1011.0 L743.8,1009.9 L744.6,1014.4 L745.4,1013.0 L746.2,1013.1 L747.0,1009.3 L747.8,1011.6 L748.6,1008.2 L749.4,1017.5 L750.2,1018.3 L751.0,1015.9 L751.8,1014.2 L752.6,1016.2 L753.4,1009.9 L754.2,1010.5 L755.0,1018.7 L755.8,1011.5 L756.6,1014.7 L757.4,1012.6 L758.2,1006.7 L759.0,1012.3 L759.8,1017.0 L760.6,1018.5 L761.4,1005.8 L762.2,1008.8 L763.0,1011.9 L763.8,1016.8 L764.6,1017.4 L765.4,1018.5 L766.2,1018.6 L767.0,1011.6 L767.8,1009.6 L768.6,1015.7 L769.4,1011.7 L770.2,1012.4 L771.0,1010.7 L771.8,1010.1 L772.6,1013.8 L773.4,1006.9 L774.2,1003.8 L775.0,1006.6 L775.8,1008.5 L776.6,1006.7 L777.4,1007.0 L778.2,1000.8 L779.0,1004.5 L779.8,1011.0 L780.6,1007.1 L781.4,1005.6 L782.2,1011.7 L783.0,1006.2 L783.8,1010.2 L784.6,1008.2 L785.4,1008.5 L786.0,1006.0 L788.0,1003.0 L790.0,1002.0 L792.0,997.0 L794.0,991.7 L795.5,982.0 L796.7,972.3 L797.5,965.0 L798.5,960.0 L800.0,954.2 L801.5,962.0 L803.0,969.7 L804.2,972.3 L805.5,982.0 L806.8,989.0 L808.0,990.0 L809.4,996.8 L811.0,994.0 L813.0,1002.0 L815.0,996.0 L815.8,1004.6 L818.0,1006.0 L822.3,1011.0 L823.1,1018.4 L823.9,1015.3 L824.7,1008.5 L825.5,1007.7 L826.3,1010.4 L827.1,1011.1 L827.9,1014.0 L828.7,1012.0 L829.5,1012.7 L830.3,1006.5 L831.1,1012.1 L831.9,1014.1 L832.7,1018.1 L833.5,1015.2 L834.3,1013.0 L835.1,1008.8 L835.9,1012.6 L836.7,1012.6 L837.5,1012.0 L838.3,1012.9 L839.1,1013.9 L839.9,1013.6 L840.7,1019.3 L841.5,1008.6 L842.3,1006.6 L843.1,1012.9 L843.9,1007.4 L844.7,1010.7 L845.5,1010.9 L846.3,1008.4 L847.1,1013.6 L847.9,1013.1 L848.7,1011.4 L849.5,1013.0 L850.3,1013.9 L851.1,1010.1 L851.9,1013.2 L852.7,1011.7 L853.5,1011.4 L854.3,1009.9 L855.1,1017.2 L855.9,1012.7 L856.7,1007.0 L857.5,1013.4 L858.3,1003.4 L859.1,1012.8 L859.9,1014.5 L860.7,1016.8 L861.5,1012.9 L862.3,1010.1 L863.1,1018.9 L863.9,1016.1 L864.7,1017.1 L865.5,1012.2 L866.3,1015.3 L867.1,1007.6 L867.9,1015.1 L868.7,1006.8 L869.5,1010.5 L870.3,1009.2 L871.1,1017.9 L871.9,1017.4 L872.7,1012.5 L873.5,1018.5 L874.3,1014.4 L875.1,1007.3 L875.9,1012.0 L876.7,1006.9 L877.5,1012.2 L878.3,1012.5 L879.1,1008.3 L879.9,1012.9 L880.7,1013.4 L881.5,1006.9 L882.3,1011.7 L883.1,1009.7 L883.9,1009.2 L884.7,1015.8 L885.5,1008.0 L886.3,1009.3 L887.1,1010.4 L887.9,1012.6 L888.7,1013.4 L889.5,1007.9 L890.3,1015.6 L891.1,1017.2 L891.9,1018.0 L892.7,1012.0 L893.5,1009.9 L894.3,1008.2 L895.1,1013.0 L895.9,1011.7 L896.7,1011.9 L897.5,1010.1 L898.3,1005.0 L899.1,1011.4 L899.9,1011.9 L900.7,1011.4 L901.5,1008.1 L902.3,1012.0 L903.1,1012.5 L903.9,1009.4 L904.7,1015.3 L905.5,1013.1 L906.3,1013.7 L907.1,1014.4 L907.9,1012.1 L908.7,1012.5 L909.5,1014.3 L910.3,1014.9 L911.1,1015.1 L911.9,1011.4 L912.7,1014.3 L913.5,1015.4 L914.3,1006.8 L915.1,1009.9 L915.9,1010.9 L916.7,1010.8 L917.5,1016.5 L918.3,1014.4 L919.1,1010.0 L919.9,1010.1 L920.7,1006.0 L921.5,1007.5 L922.3,1015.4 L923.1,1005.4 L923.9,1013.3 L924.7,1009.1 L925.5,1010.6 L926.3,1011.4 L927.1,1017.9 L927.9,1013.2 L928.7,1013.9 L929.5,1015.7 L930.3,1005.2 L931.1,1018.9 L931.9,1007.3 L932.7,1010.6 L933.5,1015.4 L934.3,1009.2 L935.1,1007.6 L935.9,1017.4 L936.7,1012.6 L937.5,1016.9 L938.3,1015.5 L939.1,1013.4 L939.9,1019.8 L940.7,1013.4 L941.5,1021.1 L942.3,1011.6 L943.1,1011.4 L943.9,1012.4 L944.7,1015.4 L945.5,1010.6 L946.3,1011.7 L947.1,1018.2 L947.9,1013.5 L948.7,1016.2 L949.5,1013.0 L950.3,1009.4 L951.1,1008.7 L951.9,1011.9 L952.7,1011.8 L953.5,1010.4 L954.3,1011.0 L955.1,1018.3 L955.9,1017.6 L956.7,1015.8 L957.5,1014.2 L958.3,1014.3 L959.1,1022.5 L959.9,1014.1 L960.7,1023.6 L961.5,1013.8 L962.3,1011.1 L963.1,1022.7 L963.9,1015.6 L964.7,1021.0 L965.5,1017.5 L966.3,1015.2 L967.1,1019.1 L967.9,1015.1 L968.7,1017.4 L969.5,1015.5 L970.3,1010.1 L971.1,1017.1 L971.9,1013.9 L972.7,1014.9 L973.5,1016.5 L974.3,1010.2 L975.1,1016.4 L975.9,1016.2 L976.7,1020.4 L977.5,1016.5 L978.3,1014.6 L979.1,1011.1 L979.9,1012.9 L980.7,1008.1 L981.5,1013.8 L982.3,1011.5 L983.1,1010.8 L983.9,1011.9 L984.7,1013.3 L985.5,1012.7 L986.3,1008.0 L987.1,1016.3 L987.9,1012.2 L988.7,1013.2 L989.5,1012.2 L990.3,1009.2 L991.1,1013.2 L991.9,1011.2 L992.7,1009.7 L993.5,1013.0 L994.3,1015.2 L995.1,1014.8 L995.9,1013.4 L996.7,1010.8 L997.5,1011.7 L998.3,1012.3 L999.1,1007.9 L999.9,1015.1 L1000.7,1012.7 L1001.5,1008.1 L1002.3,1017.1 L1003.1,1018.4 L1003.9,1007.7 L1004.7,1011.3 L1005.5,1009.1 L1006.3,1014.3 L1007.1,1007.4 L1007.9,1013.6 L1008.7,1013.5 L1009.5,1016.1 L1010.3,1006.5 L1011.1,1010.5 L1011.9,1012.5 L1012.7,1016.6 L1013.5,1014.0 L1014.3,1016.3 L1015.1,1015.6 L1015.9,1011.4 L1016.7,1014.2 L1017.5,1013.5 L1018.3,1014.1 L1019.1,1012.5 L1019.9,1018.3 L1020.7,1017.3 L1021.5,1010.6 L1022.3,1019.8 L1023.1,1016.1 L1023.9,1013.7 L1024.7,1023.0 L1025.5,1019.2 L1026.3,1020.6 L1027.1,1018.9 L1027.9,1019.0 L1028.7,1013.0 L1029.5,1021.1 L1030.3,1015.9 L1031.1,1018.1 L1031.9,1017.5 L1032.7,1014.3 L1033.5,1013.1 L1034.3,1016.4 L1035.1,1020.8 L1035.9,1014.2 L1036.7,1014.1 L1037.5,1016.1 L1038.3,1013.7 L1039.1,1019.8 L1039.9,1016.9 L1040.7,1023.5 L1041.5,1016.0 L1042.3,1022.6 L1043.1,1013.4 L1043.9,1016.0 L1044.7,1011.8 L1045.5,1014.0 L1046.3,1014.2 L1047.1,1017.2 L1047.9,1019.7 L1048.7,1014.3 L1049.5,1010.4 L1050.3,1015.2 L1051.1,1014.6 L1051.9,1013.5 L1052.7,1017.9 L1053.5,1018.8 L1054.3,1012.8 L1055.1,1012.8 L1055.9,1006.6 L1056.7,1013.0 L1057.5,1017.8 L1058.3,1012.1 L1059.1,1018.2 L1059.9,1017.5 L1060.7,1017.5 L1061.5,1017.6 L1062.3,1015.4 L1063.1,1019.1 L1063.9,1019.4 L1064.7,1017.2 L1065.5,1016.0 L1066.3,1020.5 L1067.1,1021.3 L1067.9,1014.4 L1068.7,1019.4 L1069.5,1016.9 L1070.3,1024.5 L1071.1,1015.9 L1071.9,1015.1 L1072.7,1014.3 L1073.5,1020.4 L1074.3,1014.1 L1075.1,1019.9 L1075.9,1016.2 L1076.7,1022.5 L1077.5,1023.4 L1078.3,1022.2 L1079.1,1012.2 L1079.9,1013.9 L1080.7,1010.0 L1081.5,1027.7 L1082.3,1017.3 L1083.1,1018.0 L1083.9,1019.5 L1084.7,1021.3 L1085.5,1018.1 L1086.3,1019.3 L1087.1,1018.9 L1087.9,1014.5 L1088.7,1024.6 L1089.5,1024.2 L1090.3,1018.4 L1091.1,1017.7 L1091.9,1024.2 L1092.7,1025.9 L1093.5,1017.8 L1094.3,1019.5 L1095.1,1016.0 L1095.9,1018.3 L1096.7,1008.7 L1097.5,1009.6 L1098.3,1018.4 L1099.1,1016.2 L1099.9,1018.1 L1100.7,1017.0 L1101.5,1018.7 L1102.3,1017.5 L1103.1,1016.0 L1103.9,1017.9 L1104.7,1014.3 L1105.5,1021.1 L1106.3,1013.2 L1107.1,1015.0 L1107.9,1019.3 L1108.7,1015.0 L1109.5,1019.4 L1110.3,1021.0 L1111.1,1018.7 L1111.9,1014.6 L1112.7,1022.3 L1113.5,1017.5 L1114.3,1012.7 L1115.1,1022.5 L1115.9,1016.3 L1116.7,1017.6 L1117.5,1018.3 L1118.3,1013.4 L1119.1,1017.8 L1119.9,1010.5 L1120.7,1011.1 L1121.5,1012.8 L1122.3,1021.1 L1123.1,1011.3 L1123.9,1005.9 L1124.7,1009.6 L1125.5,1016.1 L1126.3,1007.8 L1127.1,1014.5 L1127.9,1017.3 L1128.7,1014.5 L1129.5,1010.3 L1130.3,1012.0 L1131.1,1020.0 L1131.9,1022.9 L1132.7,1017.7 L1133.5,1024.7 L1134.3,1015.7 L1135.1,1022.5 L1135.9,1022.0 L1136.7,1024.9 L1137.5,1022.7 L1138.3,1029.8 L1139.1,1025.8 L1139.9,1019.3 L1140.7,1020.6 L1141.5,1021.3 L1142.3,1022.9 L1143.1,1019.1 L1143.9,1018.9 L1144.7,1022.0 L1145.5,1021.5 L1146.3,1023.2 L1147.1,1024.5 L1147.9,1015.3 L1148.7,1021.1 L1149.5,1022.1 L1150.3,1021.4 L1151.1,1017.6 L1151.9,1023.4 L1152.7,1026.7 L1153.5,1020.4 L1154.3,1018.3 L1155.1,1023.4 L1155.9,1020.8 L1156.7,1021.1 L1157.5,1021.4 L1158.3,1019.1 L1159.1,1020.5 L1159.9,1018.1 L1160.7,1014.0 L1161.5,1023.9 L1162.3,1021.3 L1163.1,1020.1 L1163.9,1024.8 L1164.7,1019.7 L1165.5,1023.9 L1166.3,1022.9 L1167.1,1019.1 L1167.9,1015.8 L1168.7,1021.5 L1169.5,1020.5 L1170.3,1023.0 L1171.1,1014.3 L1171.9,1018.9 L1172.7,1019.9 L1173.5,1020.1 L1174.3,1019.2 L1175.1,1019.7 L1175.9,1010.8 L1176.7,1017.3 L1177.5,1016.0 L1178.3,1012.9 L1179.1,1018.3 L1179.9,1016.5 L1180.7,1013.9 L1181.5,1013.2 L1182.3,1019.1 L1183.1,1009.9 L1183.9,1018.3 L1184.7,1015.1 L1185.5,1019.6 L1186.3,1025.8 L1187.1,1023.1 L1187.9,1019.8 L1188.7,1025.3 L1189.5,1026.8 L1190.3,1024.1 L1191.1,1027.3 L1191.9,1022.1 L1192.7,1023.7 L1193.5,1021.5 L1194.3,1020.5 L1195.1,1021.9 L1195.9,1019.1 L1196.7,1021.2 L1197.5,1028.7 L1198.3,1023.5 L1199.1,1020.4 L1199.9,1026.6 L1200.7,1025.5 L1201.5,1017.0 L1202.3,1018.0 L1203.1,1026.0 L1203.9,1020.4 L1204.7,1020.5 L1205.5,1018.0 L1206.3,1016.0 L1207.1,1023.5 L1207.9,1016.9 L1208.7,1021.5 L1209.5,1026.0 L1210.3,1021.6 L1211.1,1019.2 L1211.9,1022.1 L1212.7,1022.0 L1213.5,1018.7 L1214.3,1021.1 L1215.1,1016.3 L1215.9,1014.6 L1216.7,1018.7 L1217.5,1014.7 L1218.3,1018.6 L1219.1,1020.5 L1219.9,1021.8 L1220.7,1027.9 L1221.5,1019.1 L1222.3,1021.1 L1223.1,1021.4 L1223.9,1019.7 L1224.7,1029.9 L1225.5,1020.5 L1226.3,1022.2 L1227.1,1022.3 L1227.9,1031.0 L1228.7,1021.7 L1229.5,1020.1 L1230.3,1026.7 L1231.1,1020.3 L1231.9,1015.3 L1232.7,1026.1 L1233.5,1025.4 L1234.3,1017.4 L1235.1,1017.9 L1235.9,1021.9 L1236.7,1018.6 L1237.5,1016.7 L1238.3,1017.7 L1239.1,1027.6 L1239.9,1025.2 L1240.7,1017.9 L1241.5,1020.8 L1242.3,1021.6 L1243.1,1020.0 L1243.9,1021.0 L1244.7,1026.9 L1245.5,1018.8 L1246.3,1018.2 L1247.1,1020.6 L1247.9,1018.4 L1248.7,1019.1 L1249.5,1019.0 L1250.3,1017.1 L1251.1,1024.4 L1251.9,1018.0 L1252.7,1024.6 L1253.5,1017.2 L1254.3,1016.9 L1255.1,1020.8 L1255.9,1019.0 L1256.7,1022.6 L1257.5,1022.0 L1258.3,1027.5 L1259.1,1009.6 L1259.9,1015.9 L1260.7,1019.2 L1261.5,1018.6 L1262.3,1019.0 L1263.1,1027.9 L1263.9,1011.4 L1264.7,1021.3 L1265.5,1018.1 L1266.3,1018.9 L1267.1,1022.4 L1267.9,1018.5 L1268.7,1021.3 L1269.5,1022.9 L1270.3,1022.5 L1271.1,1012.0 L1271.9,1016.1 L1272.7,1013.8 L1273.5,1015.5 L1274.3,1017.4 L1275.1,1025.0 L1275.9,1015.7 L1276.7,1016.9 L1277.5,1017.3 L1278.3,1023.1 L1279.1,1016.2 L1279.9,1019.7 L1280.7,1021.1 L1281.5,1020.4 L1282.3,1011.6 L1283.1,1014.2 L1283.9,1021.0 L1284.7,1012.8 L1285.5,1018.2 L1286.3,1013.9 L1287.1,1020.5 L1287.9,1019.1 L1288.7,1014.1 L1289.5,1018.6 L1290.3,1016.0 L1291.1,1017.8 L1291.9,1024.1 L1292.7,1020.9 L1293.5,1021.2 L1294.3,1025.4 L1295.1,1020.6 L1295.9,1024.8 L1296.7,1021.8 L1297.5,1021.5 L1298.3,1019.5 L1299.1,1018.0 L1299.9,1017.4 L1300.7,1017.9 L1301.5,1022.9 L1302.3,1022.5 L1303.1,1018.4 L1303.9,1025.4 L1304.7,1019.2 L1305.5,1020.1 L1306.3,1016.8 L1307.1,1018.7 L1307.9,1024.5 L1308.7,1023.1 L1309.5,1019.6 L1310.3,1025.9 L1311.1,1021.6 L1311.9,1022.2 L1312.7,1025.5 L1313.5,1023.6 L1314.3,1021.0 L1315.1,1018.6 L1315.9,1026.5 L1316.7,1014.3 L1317.5,1020.2 L1318.3,1016.5 L1319.1,1020.4 L1319.9,1025.3 L1320.7,1021.4 L1321.5,1021.2 L1322.3,1022.5 L1323.1,1029.3 L1323.9,1027.4 L1324.7,1023.6 L1325.5,1020.6 L1326.3,1021.4 L1327.1,1023.8 L1327.9,1021.7 L1328.7,1021.8 L1329.5,1018.6 L1330.3,1017.3 L1331.1,1018.0 L1331.9,1022.2 L1332.7,1018.2 L1333.5,1029.6 L1334.3,1022.7 L1335.1,1022.9 L1335.9,1023.8 L1336.7,1016.8 L1337.5,1016.2 L1338.3,1019.2 L1339.1,1021.9 L1339.9,1021.7 L1340.7,1025.4 L1341.5,1024.6 L1342.3,1023.5 L1343.1,1023.8 L1343.9,1020.9 L1344.7,1023.0 L1345.5,1019.2 L1346.3,1018.8 L1347.1,1023.4 L1347.9,1014.8 L1348.7,1025.0 L1349.5,1026.6 L1350.3,1018.8 L1351.1,1023.0 L1351.9,1021.1 L1352.7,1017.3 L1353.5,1021.8 L1354.3,1022.4 L1355.1,1024.0 L1355.9,1019.6 L1356.7,1021.2 L1357.5,1018.7 L1358.3,1024.1 L1359.1,1020.5 L1359.9,1023.7 L1360.7,1018.6 L1361.5,1021.3 L1362.3,1017.9 L1363.1,1018.4 L1363.9,1024.7 L1364.7,1020.7 L1365.5,1021.4 L1366.3,1024.7 L1367.1,1020.3 L1367.9,1030.2 L1368.7,1021.6 L1369.5,1023.3 L1370.3,1032.1 L1371.1,1019.1 L1371.9,1030.7 L1372.7,1026.2 L1373.5,1026.6 L1374.3,1021.4 L1375.1,1025.4 L1375.9,1020.6 L1376.7,1028.2 L1377.5,1024.0 L1378.3,1022.7 L1379.1,1023.2 L1379.9,1024.3 L1380.7,1028.1 L1381.5,1026.0 L1382.3,1022.2 L1383.1,1021.8 L1383.9,1021.2 L1384.7,1027.1 L1385.5,1025.9 L1386.3,1020.3 L1387.1,1018.3 L1387.9,1023.3 L1388.7,1021.3 L1389.5,1024.7 L1390.3,1022.2 L1391.1,1023.6 L1391.9,1024.8 L1392.7,1025.4 L1393.5,1021.2 L1394.3,1024.3 L1395.1,1020.2 L1395.9,1018.5 L1396.7,1023.6 L1397.5,1027.1 L1398.3,1028.2 L1399.1,1023.7 L1399.9,1018.5 L1400.7,1025.5 L1401.5,1024.3 L1402.3,1027.1 L1403.1,1028.7 L1403.9,1024.3 L1404.7,1023.5 L1405.5,1024.4 L1406.3,1023.4 L1407.1,1022.3 L1407.9,1025.7 L1408.7,1022.7 L1409.5,1023.9 L1410.3,1023.6 L1411.1,1022.6 L1411.9,1026.1 L1412.7,1022.7 L1413.5,1023.7 L1414.3,1026.2 L1415.1,1023.2 L1415.9,1019.1 L1416.7,1022.0 L1417.5,1021.9 L1418.3,1025.1 L1419.1,1028.2 L1419.9,1023.8 L1420.7,1022.8 L1421.5,1027.6 L1422.3,1021.1 L1423.1,1024.1 L1423.9,1024.7 L1424.7,1023.1 L1425.5,1022.7 L1426.3,1023.8 L1427.1,1027.8 L1427.9,1024.9 L1428.7,1021.4 L1429.5,1024.1 L1430.3,1026.1 L1431.1,1028.5 L1431.9,1025.6 L1432.7,1023.8 L1433.5,1027.4 L1434.3,1025.9 L1435.1,1023.7 L1435.9,1021.2 L1436.7,1023.5 L1437.5,1026.1 L1438.3,1020.0 L1439.1,1018.4 L1439.9,1024.7 L1440.7,1018.6 L1441.5,1019.3 L1442.3,1022.6 L1443.1,1022.5 L1443.9,1023.4 L1444.7,1023.7 L1445.5,1024.8 L1446.3,1022.9 L1447.1,1020.7 L1447.9,1014.7 L1448.7,1026.9 L1449.5,1025.5 L1450.3,1025.0 L1451.1,1023.1 L1451.9,1020.5 L1452.7,1024.6 L1453.5,1022.9 L1454.3,1019.1 L1455.1,1026.2 L1455.9,1018.9 L1456.7,1021.8 L1457.5,1028.4 L1458.3,1020.7 L1459.1,1023.6 L1459.9,1026.2 L1460.7,1023.1 L1461.5,1018.9 L1462.3,1021.6 L1463.1,1022.9 L1463.9,1018.6 L1464.7,1027.3 L1465.5,1024.0 L1466.3,1025.2 L1467.1,1023.8 L1467.9,1024.2 L1468.7,1022.0 L1469.5,1018.6 L1470.3,1025.0 L1471.1,1023.1 L1471.9,1027.7 L1472.7,1019.6 L1473.5,1023.5 L1474.3,1029.5 L1475.1,1019.0 L1475.9,1019.5 L1476.7,1023.7 L1477.5,1028.1 L1478.3,1019.4 L1479.1,1023.2 L1479.9,1022.4 L1480.7,1021.3 L1481.5,1022.2 L1482.3,1026.6 L1483.1,1023.4 L1483.9,1019.0 L1484.7,1021.1 L1485.5,1023.2 L1486.3,1018.8 L1487.1,1020.9 L1487.9,1021.7 L1488.7,1016.7 L1489.5,1028.5 L1490.3,1018.1 L1491.1,1023.1 L1491.9,1022.4 L1492.7,1021.1 L1493.5,1026.6 L1494.3,1023.1 L1495.1,1020.4 L1495.9,1026.4 L1496.7,1024.6 L1497.5,1019.8 L1498.3,1018.4 L1499.1,1025.6 L1499.9,1022.5 L1500.7,1018.5 L1501.5,1024.6 L1502.3,1018.6 L1503.1,1020.9 L1503.9,1020.5 L1504.7,1017.0 L1505.5,1025.0 L1506.3,1033.4 L1507.1,1024.9 L1507.9,1024.2 L1508.7,1022.1 L1509.5,1022.6 L1510.3,1023.4 L1511.1,1024.2 L1511.9,1020.4 L1512.7,1021.6 L1513.5,1020.4 L1514.3,1022.3 L1515.1,1023.0 L1515.9,1023.0 L1516.7,1017.9 L1517.5,1017.2 L1518.3,1020.2 L1519.1,1016.7 L1519.9,1016.1 L1520.7,1017.4 L1521.5,1016.3 L1522.3,1018.4 L1523.1,1009.9 L1523.9,1016.0 L1524.7,1010.4 L1525.5,1013.0 L1526.3,1006.2 L1527.1,1009.0 L1527.9,1006.3 L1528.7,1005.2 L1529.5,1006.1 L1530.3,1014.3 L1531.1,1009.8 L1531.9,1010.3 L1532.7,1015.9 L1533.5,1019.4 L1534.3,1017.1 L1535.1,1020.0 L1535.9,1019.6 L1536.7,1019.3 L1537.5,1024.0 L1538.3,1020.1 L1539.1,1023.0 L1539.9,1017.1 L1540.7,1020.2 L1541.5,1023.9 L1542.3,1019.9 L1543.1,1015.1 L1543.9,1024.0 L1544.7,1023.8 L1545.5,1021.4 L1546.3,1022.8 L1547.1,1021.7 L1547.9,1024.1 L1548.7,1026.5 L1549.5,1024.2 L1550.3,1023.2 L1551.1,1022.1 L1551.9,1023.1 L1552.7,1022.2 L1553.5,1026.7 L1554.3,1020.7 L1555.1,1022.2 L1555.9,1025.1 L1556.7,1025.1 L1557.5,1024.9 L1558.3,1023.0 L1559.1,1024.9 L1559.9,1020.1 L1560.7,1019.9 L1561.5,1020.7 L1562.3,1025.8 L1563.1,1028.8 L1563.9,1023.5 L1564.7,1023.1 L1565.5,1024.0 L1566.3,1030.3 L1567.1,1025.6 L1567.9,1025.3 L1568.7,1023.3 L1569.5,1026.6 L1570.3,1029.0 L1571.1,1025.7 L1571.9,1022.8 L1572.7,1029.2 L1573.5,1025.2 L1574.3,1030.7 L1575.1,1022.2 L1575.9,1025.0 L1576.7,1026.3 L1577.5,1020.2 L1578.3,1025.8 L1579.1,1027.4 L1579.9,1025.2 L1580.7,1027.0 L1581.5,1026.2 L1582.3,1023.2 L1583.1,1027.9 L1583.9,1023.5 L1584.7,1024.9 L1585.5,1023.7 L1586.3,1027.8 L1587.1,1024.5 L1587.9,1024.5 L1588.7,1019.5 L1589.5,1025.1 L1590.3,1028.9 L1591.1,1019.6 L1591.9,1026.9 L1592.7,1025.7 L1593.5,1020.6 L1594.3,1024.5 L1595.1,1028.5 L1595.9,1025.6 L1596.7,1026.7 L1597.5,1028.9 L1598.3,1024.6 L1599.1,1028.2 L1599.9,1021.8 L1600.7,1022.9 L1601.5,1029.8 L1602.3,1029.5 L1603.1,1028.2 L1603.9,1020.9 L1604.7,1024.7 L1605.5,1022.7 L1606.3,1031.1 L1607.1,1021.3 L1607.9,1021.5 L1608.7,1023.5 L1609.5,1026.2 L1610.3,1023.5 L1611.1,1024.3 L1611.9,1026.1 L1612.7,1025.3 L1613.5,1019.6 L1614.3,1021.5 L1615.1,1030.1 L1615.9,1025.5 L1616.7,1030.8 L1617.5,1029.8 L1618.3,1028.8 L1619.1,1025.8 L1619.9,1030.3 L1620.7,1024.4 L1621.5,1032.5 L1622.3,1027.7 L1623.1,1027.8 L1623.9,1025.0 L1624.7,1024.6 L1625.5,1025.8 L1626.3,1025.2 L1627.1,1024.4 L1627.9,1024.1 L1628.7,1028.2 L1629.5,1031.5 L1630.3,1034.1 L1631.1,1030.8 L1631.9,1028.3 L1632.7,1030.6 L1633.5,1033.9"/>
<path stroke="#00f" d="M150.0,1104.4 L151.1,1106.3 L152.2,1102.4 L153.3,1100.0 L154.4,1097.0 L155.5,1102.1 L156.6,1097.9 L157.7,1098.1 L158.8,1103.0 L159.9,1104.7 L161.0,1103.9 L162.1,1102.9 L163.2,1098.6 L164.3,1099.3 L165.4,1104.1 L166.5,1107.9 L167.6,1091.3 L168.7,1105.6 L169.8,1102.5 L170.9,1101.9 L172.0,1099.6 L173.1,1099.9 L174.2,1097.5 L175.3,1102.4 L176.4,1097.7 L177.5,1100.2 L178.6,1095.2 L179.7,1104.5 L180.8,1102.4 L181.9,1091.9 L183.0,1087.5 L184.1,1093.4 L185.2,1096.7 L186.3,1100.4 L187.4,1103.4 L188.5,1106.2 L189.6,1102.5 L190.7,1106.8 L191.8,1106.2 L192.9,1107.4 L194.0,1109.0 L195.1,1100.4 L196.2,1103.0 L197.3,1109.1 L198.4,1098.8 L199.5,1101.0 L200.6,1111.4 L201.7,1101.7 L202.8,1106.4 L203.9,1107.5 L205.0,1105.9 L206.1,1110.4 L207.2,1110.2 L208.3,1104.6 L209.4,1113.3 L210.5,1104.1 L211.6,1105.4 L212.7,1106.5 L213.8,1107.7 L214.9,1103.0 L216.0,1107.8 L217.1,1099.2 L218.2,1105.4 L219.3,1104.2 L220.4,1105.3 L221.5,1107.8 L222.6,1109.3 L223.7,1106.1 L224.8,1109.2 L225.9,1104.0 L227.0,1108.4 L228.1,1113.4 L229.2,1107.9 L230.3,1109.4 L231.4,1110.4 L232.5,1113.2 L233.6,1111.6 L234.7,1109.5 L235.8,1106.5 L236.9,1110.7 L238.0,1099.6 L239.1,1111.2 L240.2,1106.9 L241.3,1111.7 L242.4,1109.1 L243.5,1113.9 L244.6,1106.7 L245.7,1101.8 L246.8,1108.8 L247.9,1106.8 L249.0,1108.0 L250.1,1111.6 L251.2,1105.5 L252.3,1109.8 L253.4,1110.3 L254.5,1110.7 L255.6,1101.7 L256.7,1107.7 L257.8,1105.1 L258.9,1106.3 L260.0,1104.5 L261.1,1106.0 L262.2,1109.9 L263.3,1112.7 L264.4,1110.3 L265.5,1105.3 L266.6,1112.9 L267.7,1106.4 L268.8,1109.3 L269.9,1114.2 L271.0,1109.7 L272.1,1113.6 L273.2,1110.6 L274.3,1107.6 L275.4,1111.1 L276.5,1108.5 L277.6,1114.6 L278.7,1114.4 L279.8,1113.2 L280.9,1105.4 L282.0,1113.7 L283.1,1109.6 L284.2,1111.0 L285.3,1110.9 L286.4,1109.7 L287.5,1112.4 L288.6,1115.1 L289.7,1117.4 L290.8,1114.6 L291.9,1113.1 L293.0,1111.7 L294.1,1112.2 L295.2,1117.7 L296.3,1114.8 L297.4,1113.1 L298.5,1107.5 L299.6,1106.8 L300.7,1113.4 L301.8,1113.0 L302.9,1114.0 L304.0,1111.1 L305.1,1108.3 L306.2,1104.9 L307.3,1106.9 L308.4,1102.7 L309.5,1110.1 L310.6,1110.7 L311.7,1113.2 L312.8,1104.1 L313.9,1105.2 L315.0,1111.0 L316.1,1110.2 L317.2,1103.5 L318.3,1107.2 L319.4,1109.6 L320.5,1108.2 L321.6,1110.4 L322.7,1109.5 L323.8,1107.9 L324.9,1110.8 L326.0,1109.5 L327.1,1113.2 L328.2,1105.8 L329.3,1109.4 L330.4,1108.3 L331.5,1109.6 L332.6,1111.6 L333.7,1112.4 L334.8,1104.6 L335.9,1114.3 L337.0,1112.7 L338.1,1112.8 L339.2,1111.7 L340.3,1114.4 L341.4,1113.1 L342.5,1106.9 L343.6,1110.4 L344.7,1111.8 L345.8,1111.6 L346.9,1111.5 L348.0,1114.5 L349.1,1109.4 L350.2,1110.4 L351.3,1109.6 L352.4,1112.3 L353.5,1113.6 L354.6,1109.6 L355.7,1113.3 L356.8,1110.5 L357.9,1116.0 L359.0,1105.4 L360.1,1111.7 L361.2,1114.9 L362.3,1110.3 L363.4,1108.1 L364.5,1108.8 L365.6,1113.0 L366.7,1109.8 L367.8,1114.5 L368.9,1111.7 L370.0,1110.0 L371.1,1110.4 L372.2,1113.1 L373.3,1114.7 L374.4,1109.5 L375.5,1108.4 L376.6,1108.2 L377.7,1112.7 L378.8,1116.3 L379.9,1109.1 L381.0,1112.3 L382.1,1108.8 L383.2,1112.3 L384.3,1105.0 L385.4,1110.8 L386.5,1105.4 L387.6,1107.1 L388.7,1111.1 L389.8,1110.0 L390.9,1111.1 L392.0,1113.4 L393.1,1113.0 L394.2,1116.9 L395.3,1114.7 L396.4,1109.7 L397.5,1111.7 L398.6,1110.0 L399.7,1110.1 L400.8,1116.1 L401.9,1108.6 L403.0,1114.7 L404.1,1115.6 L405.2,1119.5 L406.3,1111.8 L407.4,1112.8 L408.5,1113.2 L409.6,1111.6 L410.7,1118.1 L411.8,1118.8 L412.9,1106.3 L414.0,1111.8 L415.1,1115.9 L416.2,1109.2 L417.3,1109.9 L418.4,1111.7 L419.5,1111.3 L420.6,1110.5 L421.7,1110.4 L422.8,1115.8 L423.9,1103.5 L425.0,1108.5 L426.1,1106.4 L427.2,1110.2 L428.3,1108.2 L429.4,1111.1 L430.5,1110.0 L431.6,1116.9 L432.7,1106.5 L433.8,1109.2 L434.9,1113.4 L436.0,1109.9 L437.1,1111.7 L438.2,1107.0 L439.3,1113.8 L440.4,1111.4 L441.5,1113.3 L442.6,1108.8 L443.7,1109.6 L444.8,1108.5 L445.9,1115.6 L447.0,1105.4 L448.1,1111.6 L449.2,1110.8 L450.3,1113.6 L451.4,1110.4 L452.5,1106.5 L453.6,1111.0 L454.7,1104.7 L455.8,1113.2 L456.9,1110.1 L458.0,1108.6 L459.1,1109.6 L460.2,1113.1 L461.3,1106.8 L462.4,1117.1 L463.5,1110.3 L464.6,1117.2 L465.7,1113.4 L466.8,1118.5 L467.9,1109.0 L469.0,1114.8 L470.1,1111.8 L471.2,1109.7 L472.3,1113.7 L473.4,1110.2 L474.5,1108.4 L475.6,1109.6 L476.7,1107.7 L477.8,1109.0 L478.9,1109.4 L480.0,1112.8 L481.1,1109.8 L482.2,1108.2 L483.3,1113.2 L484.4,1110.3 L485.5,1108.7 L486.6,1108.1 L487.7,1116.6 L488.8,1110.9 L489.9,1115.7 L491.0,1107.9 L492.1,1107.4 L493.2,1115.4 L494.3,1109.3 L495.4,1109.3 L496.5,1109.0 L497.6,1106.4 L498.7,1112.2 L499.8,1105.4 L500.9,1111.0 L502.0,1105.3 L503.1,1115.9 L504.2,1110.1 L505.3,1111.0 L506.4,1102.4 L507.5,1108.1 L508.6,1104.8 L509.7,1103.8 L510.8,1103.5 L511.9,1108.1 L513.0,1105.5 L514.1,1103.5 L515.2,1102.9 L516.3,1102.4 L517.4,1102.4 L518.5,1103.0 L519.6,1100.4 L520.7,1101.0 L521.8,1097.1 L522.9,1103.6 L524.0,1105.3 L525.1,1102.1 L526.2,1107.6 L527.3,1101.3 L528.4,1103.6 L529.5,1106.9 L530.6,1104.2 L531.7,1101.1 L532.8,1104.5 L533.9,1102.3 L535.0,1106.8 L536.1,1105.8 L537.2,1102.9 L538.3,1105.1 L539.4,1108.7 L540.5,1106.7 L541.6,1105.7 L542.7,1099.0 L543.8,1095.0 L544.9,1097.7 L546.0,1104.9 L547.1,1098.4 L548.2,1102.4 L549.3,1105.8 L550.4,1096.5 L551.5,1102.5 L552.6,1098.9 L553.7,1101.9 L554.8,1104.1 L555.9,1100.1 L557.0,1099.2 L558.1,1101.7 L559.2,1103.0 L560.3,1100.7 L561.4,1098.6 L562.5,1102.6 L563.6,1096.1 L565.0,1096.0 L567.0,1097.7 L568.5,1090.0 L569.7,1078.0 L571.0,1091.0 L573.0,1090.7 L574.5,1084.0 L575.8,1076.8 L577.6,1065.4 L579.3,1050.6 L580.2,1041.4 L581.5,1052.0 L582.8,1045.0 L584.0,1060.0 L585.4,1048.0 L586.5,1066.0 L588.0,1072.4 L589.0,1068.0 L590.2,1081.0 L591.5,1089.9 L593.0,1086.0 L594.6,1095.0 L596.8,1103.8 L599.4,1108.0 L602.0,1103.0 L605.5,1107.3 L608.0,1104.0 L612.5,1112.6 L613.6,1118.8 L614.7,1111.0 L615.8,1112.2 L616.9,1109.4 L618.0,1110.5 L619.1,1108.4 L620.2,1111.6 L621.3,1107.6 L622.4,1106.5 L623.5,1111.4 L624.6,1105.0 L625.7,1113.1 L626.8,1110.8 L627.9,1109.7 L629.0,1113.3 L630.1,1113.6 L631.2,1116.1 L632.3,1114.8 L633.4,1120.9 L634.5,1118.1 L635.6,1118.0 L636.7,1110.9 L637.8,1113.1 L638.9,1117.5 L640.0,1115.8 L641.1,1114.3 L642.2,1114.2 L643.3,1117.7 L644.4,1109.0 L645.5,1111.8 L646.6,1109.6 L647.7,1116.3 L648.8,1108.1 L649.9,1110.6 L651.0,1115.1 L652.1,1110.2 L653.2,1112.4 L654.3,1112.0 L655.4,1114.3 L656.5,1119.2 L657.6,1109.7 L658.7,1113.2 L659.8,1118.4 L660.9,1120.6 L662.0,1113.2 L663.1,1118.0 L664.2,1116.0 L665.3,1116.1 L666.4,1110.2 L667.5,1109.7 L668.6,1115.0 L669.7,1114.4 L670.8,1114.6 L671.9,1111.5 L673.0,1119.3 L674.1,1114.7 L675.2,1123.3 L676.3,1114.7 L677.4,1116.4 L678.5,1117.5 L679.6,1114.2 L680.7,1112.2 L681.8,1113.4 L682.9,1115.1 L684.0,1113.5 L685.1,1120.8 L686.2,1113.3 L687.3,1117.1 L688.4,1117.1 L689.5,1115.2 L690.6,1111.5 L691.7,1116.1 L692.8,1117.3 L693.9,1114.9 L695.0,1114.4 L696.1,1107.9 L697.2,1111.0 L698.3,1113.6 L699.4,1114.7 L700.5,1116.3 L701.6,1113.1 L702.7,1114.5 L703.8,1111.0 L704.9,1115.8 L706.0,1116.1 L707.1,1113.6 L708.2,1116.8 L709.3,1113.1 L710.4,1112.5 L711.5,1113.1 L712.6,1119.8 L713.7,1109.3 L714.8,1114.7 L715.9,1113.3 L717.0,1115.0 L718.1,1110.6 L719.2,1117.4 L720.3,1117.5 L721.4,1115.0 L722.5,1114.9 L723.6,1120.4 L724.7,1125.0 L725.8,1117.8 L726.9,1120.2 L728.0,1114.8 L729.1,1117.8 L730.2,1112.5 L731.3,1120.3 L732.4,1115.1 L733.5,1119.4 L734.6,1112.5 L735.7,1112.6 L736.8,1117.9 L737.9,1116.9 L739.0,1116.0 L740.1,1118.7 L741.2,1116.5 L742.3,1114.4 L743.4,1110.0 L744.5,1109.0 L745.6,1117.8 L746.7,1117.7 L747.8,1113.6 L748.9,1117.9 L750.0,1115.9 L751.1,1116.8 L752.2,1119.6 L753.3,1112.2 L754.4,1117.8 L755.5,1118.2 L756.6,1116.0 L757.7,1117.0 L758.8,1113.0 L759.9,1116.7 L761.0,1118.0 L762.1,1118.3 L763.2,1113.9 L764.3,1118.2 L765.4,1116.6 L766.5,1117.5 L767.6,1115.4 L768.7,1117.2 L769.8,1115.8 L770.9,1122.2 L772.0,1114.1 L773.1,1118.1 L774.2,1114.6 L775.3,1110.2 L776.4,1115.8 L777.5,1117.9 L778.6,1116.4 L779.7,1116.3 L780.8,1111.4 L781.9,1114.4 L783.0,1109.2 L784.1,1118.2 L785.2,1117.3 L786.3,1109.5 L787.4,1111.1 L788.5,1108.4 L789.6,1109.2 L790.7,1109.2 L791.8,1105.8 L792.9,1106.4 L794.0,1108.0 L795.1,1098.9 L796.2,1093.0 L797.3,1097.3 L798.4,1093.1 L799.5,1085.0 L800.6,1093.9 L801.7,1096.3 L802.8,1099.8 L803.9,1098.2 L805.0,1104.8 L806.1,1101.8 L807.2,1108.4 L808.3,1114.3 L809.4,1111.4 L810.5,1105.2 L811.6,1115.5 L812.7,1113.6 L813.8,1115.4 L814.9,1115.4 L816.0,1118.1 L817.1,1118.2 L818.2,1115.3 L819.3,1112.0 L820.4,1115.4 L821.5,1117.9 L822.6,1110.2 L823.7,1116.1 L824.8,1110.4 L825.9,1118.9 L827.0,1121.1 L828.1,1118.2 L829.2,1114.4 L830.3,1118.0 L831.4,1119.7 L832.5,1120.9 L833.6,1120.4 L834.7,1119.6 L835.8,1113.7 L836.9,1116.6 L838.0,1118.5 L839.1,1117.4 L840.2,1111.8 L841.3,1117.2 L842.4,1115.8 L843.5,1118.6 L844.6,1118.9 L845.7,1113.4 L846.8,1115.0 L847.9,1117.4 L849.0,1113.5 L850.1,1116.1 L851.2,1113.4 L852.3,1113.4 L853.4,1117.8 L854.5,1114.4 L855.6,1112.9 L856.7,1118.9 L857.8,1113.5 L858.9,1114.7 L860.0,1115.2 L861.1,1124.4 L862.2,1117.7 L863.3,1118.7 L864.4,1115.4 L865.5,1119.3 L866.6,1120.5 L867.7,1114.1 L868.8,1119.1 L869.9,1122.9 L871.0,1123.5 L872.1,1118.9 L873.2,1124.9 L874.3,1116.0 L875.4,1120.9 L876.5,1119.3 L877.6,1114.5 L878.7,1120.4 L879.8,1113.5 L880.9,1115.2 L882.0,1116.7 L883.1,1113.3 L884.2,1120.2 L885.3,1115.3 L886.4,1112.8 L887.5,1117.0 L888.6,1116.1 L889.7,1112.8 L890.8,1111.6 L891.9,1108.4 L893.0,1114.2 L894.1,1112.7 L895.2,1121.0 L896.3,1121.9 L897.4,1123.2 L898.5,1119.0 L899.6,1118.4 L900.7,1120.3 L901.8,1118.7 L902.9,1119.4 L904.0,1118.4 L905.1,1118.9 L906.2,1118.2 L907.3,1119.2 L908.4,1119.3 L909.5,1118.0 L910.6,1117.1 L911.7,1122.0 L912.8,1120.3 L913.9,1119.2 L915.0,1116.0 L916.1,1119.5 L917.2,1117.6 L918.3,1119.3 L919.4,1118.4 L920.5,1123.7 L921.6,1117.8 L922.7,1115.4 L923.8,1120.2 L924.9,1120.4 L926.0,1120.9 L927.1,1111.8 L928.2,1115.8 L929.3,1116.2 L930.4,1114.4 L931.5,1118.6 L932.6,1120.0 L933.7,1121.1 L934.8,1120.8 L935.9,1118.8 L937.0,1122.4 L938.1,1119.4 L939.2,1112.2 L940.3,1117.8 L941.4,1116.7 L942.5,1119.1 L943.6,1117.2 L944.7,1117.3 L945.8,1121.2 L946.9,1116.1 L948.0,1114.5 L949.1,1118.2 L950.2,1119.2 L951.3,1117.8 L952.4,1118.5 L953.5,1117.6 L954.6,1116.3 L955.7,1118.1 L956.8,1117.8 L957.9,1123.6 L959.0,1120.6 L960.1,1124.8 L961.2,1121.3 L962.3,1119.3 L963.4,1121.6 L964.5,1121.3 L965.6,1123.5 L966.7,1115.4 L967.8,1118.8 L968.9,1120.4 L970.0,1117.3 L971.1,1119.0 L972.2,1117.7 L973.3,1121.5 L974.4,1121.0 L975.5,1113.4 L976.6,1114.7 L977.7,1116.6 L978.8,1118.4 L979.9,1118.4 L981.0,1117.7 L982.1,1120.5 L983.2,1121.2 L984.3,1119.6 L985.4,1118.8 L986.5,1119.7 L987.6,1117.8 L988.7,1121.8 L989.8,1121.9 L990.9,1117.9 L992.0,1123.5 L993.1,1120.1 L994.2,1122.2 L995.3,1120.3 L996.4,1119.9 L997.5,1122.1 L998.6,1118.2 L999.7,1120.0 L1000.8,1117.8 L1001.9,1121.8 L1003.0,1120.1 L1004.1,1119.9 L1005.2,1119.4 L1006.3,1122.2 L1007.4,1121.3 L1008.5,1120.2 L1009.6,1119.6 L1010.7,1124.8 L1011.8,1124.2 L1012.9,1118.1 L1014.0,1123.5 L1015.1,1121.9 L1016.2,1121.5 L1017.3,1121.8 L1018.4,1117.7 L1019.5,1126.7 L1020.6,1125.8 L1021.7,1121.1 L1022.8,1121.1 L1023.9,1121.5 L1025.0,1119.7 L1026.1,1122.6 L1027.2,1121.3 L1028.3,1118.9 L1029.4,1120.4 L1030.5,1120.1 L1031.6,1120.3 L1032.7,1121.1 L1033.8,1123.4 L1034.9,1121.1 L1036.0,1118.4 L1037.1,1125.6 L1038.2,1121.0 L1039.3,1125.9 L1040.4,1123.2 L1041.5,1124.0 L1042.6,1120.9 L1043.7,1123.2 L1044.8,1126.2 L1045.9,1131.0 L1047.0,1127.2 L1048.1,1121.9 L1049.2,1124.6 L1050.3,1119.1 L1051.4,1119.7 L1052.5,1123.0 L1053.6,1123.0 L1054.7,1124.1 L1055.8,1125.2 L1056.9,1122.3 L1058.0,1122.8 L1059.1,1121.4 L1060.2,1121.2 L1061.3,1120.7 L1062.4,1121.4 L1063.5,1120.1 L1064.6,1121.2 L1065.7,1123.7 L1066.8,1123.2 L1067.9,1124.9 L1069.0,1121.4 L1070.1,1121.9 L1071.2,1123.9 L1072.3,1121.1 L1073.4,1121.1 L1074.5,1124.6 L1075.6,1122.4 L1076.7,1125.1 L1077.8,1123.2 L1078.9,1121.9 L1080.0,1120.5 L1081.1,1125.6 L1082.2,1122.6 L1083.3,1120.7 L1084.4,1119.2 L1085.5,1119.7 L1086.6,1121.6 L1087.7,1125.3 L1088.8,1120.3 L1089.9,1123.0 L1091.0,1122.8 L1092.1,1114.5 L1093.2,1119.2 L1094.3,1124.0 L1095.4,1117.3 L1096.5,1124.6 L1097.6,1121.9 L1098.7,1118.0 L1099.8,1126.2 L1100.9,1121.6 L1102.0,1124.8 L1103.1,1122.3 L1104.2,1120.6 L1105.3,1124.0 L1106.4,1125.3 L1107.5,1124.4 L1108.6,1119.9 L1109.7,1123.3 L1110.8,1120.0 L1111.9,1121.1 L1113.0,1124.7 L1114.1,1119.7 L1115.2,1126.9 L1116.3,1119.5 L1117.4,1120.0 L1118.5,1123.8 L1119.6,1122.1 L1120.7,1122.2 L1121.8,1120.8 L1122.9,1123.9 L1124.0,1123.0 L1125.1,1122.5 L1126.2,1121.2 L1127.3,1120.0 L1128.4,1122.7 L1129.5,1118.8 L1130.6,1121.6 L1131.7,1124.0 L1132.8,1124.2 L1133.9,1122.3 L1135.0,1118.3 L1136.1,1124.1 L1137.2,1124.8 L1138.3,1123.3 L1139.4,1125.6 L1140.5,1125.2 L1141.6,1120.4 L1142.7,1123.1 L1143.8,1122.6 L1144.9,1126.5 L1146.0,1125.6 L1147.1,1123.9 L1148.2,1124.8 L1149.3,1125.5 L1150.4,1122.6 L1151.5,1123.6 L1152.6,1123.8 L1153.7,1123.3 L1154.8,1123.5 L1155.9,1124.6 L1157.0,1121.9 L1158.1,1122.2 L1159.2,1125.8 L1160.3,1127.2 L1161.4,1127.9 L1162.5,1121.2 L1163.6,1125.2 L1164.7,1123.0 L1165.8,1123.5 L1166.9,1124.1 L1168.0,1125.3 L1169.1,1125.6 L1170.2,1120.2 L1171.3,1123.5 L1172.4,1126.6 L1173.5,1124.9 L1174.6,1121.7 L1175.7,1122.9 L1176.8,1123.2 L1177.9,1126.6 L1179.0,1128.0 L1180.1,1122.8 L1181.2,1125.7 L1182.3,1124.3 L1183.4,1125.9 L1184.5,1124.4 L1185.6,1122.8 L1186.7,1123.7 L1187.8,1123.7 L1188.9,1127.6 L1190.0,1123.6 L1191.1,1126.0 L1192.2,1123.5 L1193.3,1123.8 L1194.4,1125.5 L1195.5,1124.0 L1196.6,1128.7 L1197.7,1127.5 L1198.8,1123.0 L1199.9,1126.1 L1201.0,1127.9 L1202.1,1123.0 L1203.2,1124.5 L1204.3,1127.9 L1205.4,1123.7 L1206.5,1126.4 L1207.6,1125.2 L1208.7,1125.6 L1209.8,1123.4 L1210.9,1125.2 L1212.0,1124.6 L1213.1,1128.6 L1214.2,1126.6 L1215.3,1125.7 L1216.4,1125.4 L1217.5,1126.8 L1218.6,1122.6 L1219.7,1123.7 L1220.8,1123.9 L1221.9,1124.1 L1223.0,1122.6 L1224.1,1126.6 L1225.2,1124.8 L1226.3,1128.0 L1227.4,1125.5 L1228.5,1125.0 L1229.6,1126.5 L1230.7,1126.5 L1231.8,1125.2 L1232.9,1126.8 L1234.0,1128.1 L1235.1,1124.9 L1236.2,1128.1 L1237.3,1125.4 L1238.4,1127.4 L1239.5,1125.7 L1240.6,1125.1 L1241.7,1126.4 L1242.8,1123.8 L1243.9,1122.9 L1245.0,1125.8 L1246.1,1125.4 L1247.2,1123.8 L1248.3,1129.8 L1249.4,1126.6 L1250.5,1124.6 L1251.6,1126.8 L1252.7,1126.9 L1253.8,1125.2 L1254.9,1125.5 L1256.0,1122.5 L1257.1,1126.4 L1258.2,1129.4 L1259.3,1128.1 L1260.4,1127.9 L1261.5,1124.9 L1262.6,1124.0 L1263.7,1127.6 L1264.8,1126.6 L1265.9,1125.7 L1267.0,1125.5 L1268.1,1127.8 L1269.2,1127.2 L1270.3,1125.2 L1271.4,1125.9 L1272.5,1123.0 L1273.6,1123.9 L1274.7,1127.1 L1275.8,1125.3 L1276.9,1124.5 L1278.0,1126.6 L1279.1,1128.4 L1280.2,1124.6 L1281.3,1125.6 L1282.4,1125.7 L1283.5,1130.6 L1284.6,1128.0 L1285.7,1126.7 L1286.8,1123.6 L1287.9,1127.6 L1289.0,1127.3 L1290.1,1125.9 L1291.2,1124.8 L1292.3,1125.4 L1293.4,1123.2 L1294.5,1125.5 L1295.6,1125.3 L1296.7,1124.5 L1297.8,1125.6 L1298.9,1123.3 L1300.0,1127.7 L1301.1,1126.0 L1302.2,1124.6 L1303.3,1127.2 L1304.4,1126.9 L1305.5,1125.5 L1306.6,1124.4 L1307.7,1126.0 L1308.8,1126.7 L1309.9,1127.0 L1311.0,1127.3 L1312.1,1127.2 L1313.2,1124.1 L1314.3,1126.2 L1315.4,1123.6 L1316.5,1127.3 L1317.6,1126.6 L1318.7,1127.3 L1319.8,1126.1 L1320.9,1126.0 L1322.0,1125.3 L1323.1,1122.3 L1324.2,1125.7 L1325.3,1129.3 L1326.4,1127.6 L1327.5,1125.7 L1328.6,1126.4 L1329.7,1126.5 L1330.8,1125.2 L1331.9,1125.9 L1333.0,1126.4 L1334.1,1125.2 L1335.2,1126.5 L1336.3,1127.5 L1337.4,1127.0 L1338.5,1126.2 L1339.6,1125.6 L1340.7,1126.8 L1341.8,1125.1 L1342.9,1125.0 L1344.0,1127.5 L1345.1,1125.4 L1346.2,1124.2 L1347.3,1127.2 L1348.4,1127.2 L1349.5,1127.8 L1350.6,1126.4 L1351.7,1128.1 L1352.8,1126.6 L1353.9,1125.6 L1355.0,1126.8 L1356.1,1127.5 L1357.2,1125.9 L1358.3,1127.2 L1359.4,1127.9 L1360.5,1127.1 L1361.6,1127.8 L1362.7,1127.6 L1363.8,1126.6 L1364.9,1128.1 L1366.0,1128.4 L1367.1,1125.1 L1368.2,1126.8 L1369.3,1128.7 L1370.4,1128.3 L1371.5,1125.2 L1372.6,1128.0 L1373.7,1129.5 L1374.8,1128.9 L1375.9,1128.7 L1377.0,1127.6 L1378.1,1127.8 L1379.2,1126.2 L1380.3,1127.8 L1381.4,1130.8 L1382.5,1127.7 L1383.6,1126.6 L1384.7,1128.5 L1385.8,1125.1 L1386.9,1130.7 L1388.0,1128.6 L1389.1,1127.4 L1390.2,1127.3 L1391.3,1126.6 L1392.4,1128.0 L1393.5,1127.9 L1394.6,1125.8 L1395.7,1129.1 L1396.8,1127.4 L1397.9,1126.4 L1399.0,1129.1 L1400.1,1128.8 L1401.2,1127.1 L1402.3,1127.0 L1403.4,1129.3 L1404.5,1127.3 L1405.6,1128.1 L1406.7,1129.7 L1407.8,1126.3 L1408.9,1125.9 L1410.0,1126.8 L1411.1,1127.1 L1412.2,1127.9 L1413.3,1129.2 L1414.4,1127.4 L1415.5,1130.1 L1416.6,1128.2 L1417.7,1125.3 L1418.8,1127.9 L1419.9,1128.9 L1421.0,1129.4 L1422.1,1127.0 L1423.2,1127.8 L1424.3,1130.9 L1425.4,1128.2 L1426.5,1126.8 L1427.6,1126.0 L1428.7,1127.4 L1429.8,1128.5 L1430.9,1126.6 L1432.0,1129.8 L1433.1,1127.0 L1434.2,1125.5 L1435.3,1128.9 L1436.4,1128.1 L1437.5,1127.7 L1438.6,1129.7 L1439.7,1127.3 L1440.8,1129.0 L1441.9,1127.4 L1443.0,1130.2 L1444.1,1128.1 L1445.2,1128.1 L1446.3,1128.9 L1447.4,1128.0 L1448.5,1128.7 L1449.6,1127.8 L1450.7,1129.0 L1451.8,1128.2 L1452.9,1127.5 L1454.0,1128.9 L1455.1,1128.8 L1456.2,1126.8 L1457.3,1127.8 L1458.4,1126.0 L1459.5,1128.4 L1460.6,1129.3 L1461.7,1131.4 L1462.8,1128.6 L1463.9,1129.6 L1465.0,1130.2 L1466.1,1129.2 L1467.2,1125.9 L1468.3,1127.7 L1469.4,1128.7 L1470.5,1128.7 L1471.6,1128.5 L1472.7,1127.2 L1473.8,1125.9 L1474.9,1128.8 L1476.0,1129.9 L1477.1,1127.7 L1478.2,1129.1 L1479.3,1127.7 L1480.4,1128.2 L1481.5,1127.6 L1482.6,1129.5 L1483.7,1127.2 L1484.8,1128.6 L1485.9,1129.6 L1487.0,1128.4 L1488.1,1126.8 L1489.2,1128.9 L1490.3,1128.2 L1491.4,1126.8 L1492.5,1128.2 L1493.6,1128.1 L1494.7,1129.3 L1495.8,1127.9 L1496.9,1128.6 L1498.0,1129.3 L1499.1,1126.1 L1500.2,1129.8 L1501.3,1128.5 L1502.4,1127.2 L1503.5,1128.7 L1504.6,1129.9 L1505.7,1127.7 L1506.8,1127.9 L1507.9,1130.3 L1509.0,1130.6 L1510.1,1131.2 L1511.2,1128.7 L1512.3,1127.4 L1513.4,1127.4 L1514.5,1128.2 L1515.6,1127.4 L1516.7,1129.2 L1517.8,1130.3 L1518.9,1127.3 L1520.0,1130.6 L1521.1,1127.5 L1522.2,1127.8 L1523.3,1126.9 L1524.4,1129.6 L1525.5,1128.6 L1526.6,1128.8 L1527.7,1125.0 L1528.8,1128.0 L1529.9,1129.1 L1531.0,1125.2 L1532.1,1131.3 L1533.2,1129.2 L1534.3,1130.2 L1535.4,1128.4 L1536.5,1130.0 L1537.6,1130.5 L1538.7,1132.1 L1539.8,1127.5 L1540.9,1131.6 L1542.0,1127.5 L1543.1,1129.1 L1544.2,1128.4 L1545.3,1128.7 L1546.4,1126.4 L1547.5,1128.6 L1548.6,1127.4 L1549.7,1128.7 L1550.8,1129.3 L1551.9,1129.1 L1553.0,1128.9 L1554.1,1130.8 L1555.2,1129.5 L1556.3,1129.8 L1557.4,1130.8 L1558.5,1129.0 L1559.6,1129.2 L1560.7,1129.9 L1561.8,1128.7 L1562.9,1130.7 L1564.0,1128.3 L1565.1,1128.8 L1566.2,1128.9 L1567.3,1128.7 L1568.4,1129.1 L1569.5,1128.5 L1570.6,1126.1 L1571.7,1130.6 L1572.8,1128.6 L1573.9,1130.1 L1575.0,1127.8 L1576.1,1129.9 L1577.2,1127.5 L1578.3,1131.1 L1579.4,1129.0 L1580.5,1128.6 L1581.6,1125.5 L1582.7,1126.3 L1583.8,1128.6 L1584.9,1128.4 L1586.0,1128.4 L1587.1,1128.5 L1588.2,1130.5 L1589.3,1128.7 L1590.4,1128.7 L1591.5,1128.2 L1592.6,1127.8 L1593.7,1129.7 L1594.8,1128.7 L1595.9,1128.8 L1597.0,1129.6 L1598.1,1129.3 L1599.2,1130.3 L1600.3,1130.2 L1601.4,1127.6 L1602.5,1128.3 L1603.6,1130.6 L1604.7,1128.8 L1605.8,1130.1 L1606.9,1128.2 L1608.0,1126.2 L1609.1,1126.5 L1610.2,1128.5 L1611.3,1128.8 L1612.4,1132.4 L1613.5,1130.4 L1614.6,1130.3 L1615.7,1130.6 L1616.8,1127.4 L1617.9,1129.5 L1619.0,1129.3 L1620.1,1132.0 L1621.2,1128.6 L1622.3,1127.6 L1623.4,1129.6 L1624.5,1129.3 L1625.6,1129.7 L1626.7,1129.8 L1627.8,1129.8 L1628.9,1128.7 L1630.0,1129.1 L1631.1,1132.8 L1632.2,1129.2 L1633.3,1130.9 L1634.4,1129.1"/>
</g>
<g shape-rendering="crispEdges" fill="none" stroke="#000">
<line x1="587.5" y1="147" x2="580" y2="1124" stroke-width="3" stroke-dasharray="10 6.72"/>
<line x1="805.5" y1="153.2" x2="805.5" y2="1128.5" stroke-width="3" stroke-dasharray="10 6.72"/>
<line x1="1534" y1="137" x2="1534" y2="1111.7" stroke-width="2" stroke-dasharray="10.7 6.02"/>
</g>
<g shape-rendering="crispEdges" fill="#000">
<rect x="943" y="407" width="427" height="3"/>
<rect x="943" y="668" width="427" height="3"/>
<rect x="943" y="407" width="2" height="264"/>
<rect x="1368" y="407" width="2" height="264"/>
</g>
<g shape-rendering="crispEdges" fill="none" stroke-width="3" stroke-linecap="round">
<line x1="957.5" y1="454.5" x2="1110.5" y2="454.5" stroke="#000"/>
<line x1="957" y1="542" x2="1111" y2="542" stroke="#f00" stroke-width="2"/>
<line x1="957.5" y1="628.5" x2="1110.5" y2="628.5" stroke="#00f"/>
</g>
<g>
<text transform="translate(511.10,120.20) scale(1.0056,1)" font-family="'Liberation Serif', serif" font-size="55.3">(111)</text>
<text transform="translate(743.22,127.80) scale(0.9720,1)" font-family="'Liberation Serif', serif" font-size="59">(200)</text>
<text transform="translate(1458.11,121.00) scale(0.9769,1)" font-family="'Liberation Serif', serif" font-size="59">(220)</text>
<text transform="translate(1123.24,477.90) scale(0.9920,1)" font-family="'Liberation Serif', serif" font-size="59.7">20NiS450</text>
<text transform="translate(1123.37,565.00) scale(0.9914,1)" font-family="'Liberation Serif', serif" font-size="59.7">10NiS450</text>
<text transform="translate(1122.30,652.50) scale(1.0055,1)" font-family="'Liberation Serif', serif" font-size="59.7">5NiS450</text>
<text transform="translate(0,1319.6) scale(1.1,1)" font-family="'Liberation Serif', serif" font-size="75.3"><tspan x="633.88" y="0">2</tspan><tspan x="669.33" y="0.5" font-size="79.6">θ</tspan><tspan x="704.61" y="0" font-size="78">,</tspan></text>
<text transform="translate(815.69,1319.50) scale(1.0765,1)" font-family="'Liberation Serif', serif" font-size="74.6">(degree)</text>
<text transform="translate(85.90,796.65) rotate(-90) scale(1.0716,1)" font-family="'Liberation Serif', serif" font-size="76">Intensity</text>
<text transform="translate(85.90,490.95) rotate(-90) scale(1.0370,1)" font-family="'Liberation Serif', serif" font-size="76">(a.u.)</text>
<text transform="translate(118.39,1217.40) scale(1.0189,1)" font-family="'Liberation Sans', sans-serif" font-size="56.8">30</text>
<text transform="translate(413.32,1217.40) scale(1.0429,1)" font-family="'Liberation Sans', sans-serif" font-size="56.8">40</text>
<text transform="translate(710.47,1217.40) scale(1.0274,1)" font-family="'Liberation Sans', sans-serif" font-size="56.8">50</text>
<text transform="translate(1005.61,1217.40) scale(1.0529,1)" font-family="'Liberation Sans', sans-serif" font-size="56.8">60</text>
<text transform="translate(1302.74,1217.40) scale(1.0409,1)" font-family="'Liberation Sans', sans-serif" font-size="56.8">70</text>
<text transform="translate(1600.04,1217.40) scale(1.0392,1)" font-family="'Liberation Sans', sans-serif" font-size="56.8">80</text>
</g>
</svg>
</body>
</html>
